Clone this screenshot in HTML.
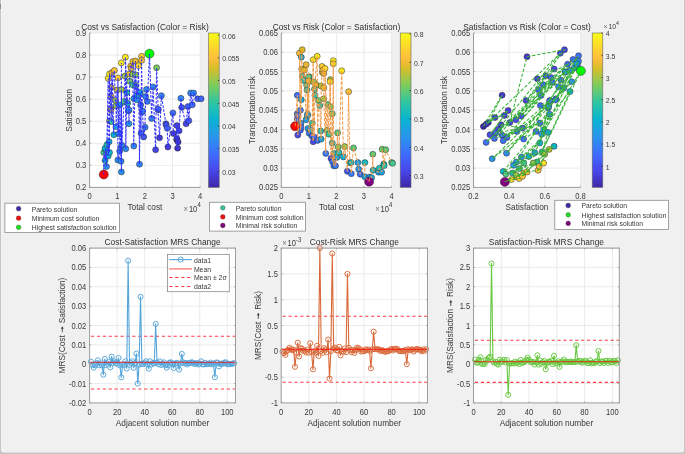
<!DOCTYPE html>
<html><head><meta charset="utf-8"><style>
html,body{margin:0;padding:0;background:#f0f0f0;}
body{width:685px;height:454px;overflow:hidden;position:relative;}
svg{position:absolute;left:0;top:0;font-family:"Liberation Sans", sans-serif;will-change:transform;filter:blur(0.3px);}
</style></head><body>
<svg width="685" height="454" viewBox="0 0 685 454">
<defs><clipPath id="c1"><rect x="89.6" y="33" width="110.6" height="154.4"/></clipPath><clipPath id="c2"><rect x="281.3" y="33" width="110.2" height="154.4"/></clipPath><clipPath id="c3"><rect x="473.5" y="33" width="107" height="154.4"/></clipPath><clipPath id="c4"><rect x="89.6" y="248.1" width="145.9" height="154.8"/></clipPath><clipPath id="c5"><rect x="281.2" y="248.1" width="146.3" height="154.8"/></clipPath><clipPath id="c6"><rect x="473.5" y="248.1" width="145.8" height="154.8"/></clipPath><linearGradient id="g1" x1="0" y1="0" x2="0" y2="1"><stop offset="0.0000" stop-color="#f9fb15"/><stop offset="0.1111" stop-color="#fccf30"/><stop offset="0.1650" stop-color="#fdbe3c"/><stop offset="0.2222" stop-color="#dcbd29"/><stop offset="0.3333" stop-color="#81cc59"/><stop offset="0.4444" stop-color="#31c69f"/><stop offset="0.5556" stop-color="#08b5d0"/><stop offset="0.6667" stop-color="#2797eb"/><stop offset="0.7778" stop-color="#3e6fff"/><stop offset="0.8889" stop-color="#4747eb"/><stop offset="1.0000" stop-color="#3e26a8"/></linearGradient><linearGradient id="g2" x1="0" y1="0" x2="0" y2="1"><stop offset="0.0000" stop-color="#f9fb15"/><stop offset="0.1111" stop-color="#fccf30"/><stop offset="0.1650" stop-color="#fdbe3c"/><stop offset="0.2222" stop-color="#dcbd29"/><stop offset="0.3333" stop-color="#81cc59"/><stop offset="0.4444" stop-color="#31c69f"/><stop offset="0.5556" stop-color="#08b5d0"/><stop offset="0.6667" stop-color="#2797eb"/><stop offset="0.7778" stop-color="#3e6fff"/><stop offset="0.8889" stop-color="#4747eb"/><stop offset="1.0000" stop-color="#3e26a8"/></linearGradient><linearGradient id="g3" x1="0" y1="0" x2="0" y2="1"><stop offset="0.0000" stop-color="#f9fb15"/><stop offset="0.1111" stop-color="#fccf30"/><stop offset="0.1650" stop-color="#fdbe3c"/><stop offset="0.2222" stop-color="#dcbd29"/><stop offset="0.3333" stop-color="#81cc59"/><stop offset="0.4444" stop-color="#31c69f"/><stop offset="0.5556" stop-color="#08b5d0"/><stop offset="0.6667" stop-color="#2797eb"/><stop offset="0.7778" stop-color="#3e6fff"/><stop offset="0.8889" stop-color="#4747eb"/><stop offset="1.0000" stop-color="#3e26a8"/></linearGradient></defs>
<rect x="0" y="0" width="685" height="454" fill="#c4c4c4"/>
<rect x="0" y="4" width="1" height="5" fill="#8a8a8a"/>
<rect x="1" y="-6" width="683" height="458.6" rx="3" ry="3" fill="#f6f6f6"/>
<rect x="1.6" y="-6" width="681.8" height="458.0" rx="2.5" ry="2.5" fill="#f0f0f0"/>
<rect x="89.6" y="33" width="110.6" height="154.4" fill="#fff"/>
<line x1="117.25" y1="33" x2="117.25" y2="187.4" stroke="#e6e6e6" stroke-width="0.8"/>
<line x1="144.9" y1="33" x2="144.9" y2="187.4" stroke="#e6e6e6" stroke-width="0.8"/>
<line x1="172.55" y1="33" x2="172.55" y2="187.4" stroke="#e6e6e6" stroke-width="0.8"/>
<line x1="200.2" y1="33" x2="200.2" y2="187.4" stroke="#e6e6e6" stroke-width="0.8"/>
<line x1="89.6" y1="165.34" x2="200.2" y2="165.34" stroke="#e6e6e6" stroke-width="0.8"/>
<line x1="89.6" y1="143.29" x2="200.2" y2="143.29" stroke="#e6e6e6" stroke-width="0.8"/>
<line x1="89.6" y1="121.23" x2="200.2" y2="121.23" stroke="#e6e6e6" stroke-width="0.8"/>
<line x1="89.6" y1="99.17" x2="200.2" y2="99.17" stroke="#e6e6e6" stroke-width="0.8"/>
<line x1="89.6" y1="77.11" x2="200.2" y2="77.11" stroke="#e6e6e6" stroke-width="0.8"/>
<line x1="89.6" y1="55.06" x2="200.2" y2="55.06" stroke="#e6e6e6" stroke-width="0.8"/>
<line x1="89.6" y1="33" x2="200.2" y2="33" stroke="#e6e6e6" stroke-width="0.8"/>
<rect x="281.3" y="33" width="110.2" height="154.4" fill="#fff"/>
<line x1="308.85" y1="33" x2="308.85" y2="187.4" stroke="#e6e6e6" stroke-width="0.8"/>
<line x1="336.4" y1="33" x2="336.4" y2="187.4" stroke="#e6e6e6" stroke-width="0.8"/>
<line x1="363.95" y1="33" x2="363.95" y2="187.4" stroke="#e6e6e6" stroke-width="0.8"/>
<line x1="391.5" y1="33" x2="391.5" y2="187.4" stroke="#e6e6e6" stroke-width="0.8"/>
<line x1="281.3" y1="168.1" x2="391.5" y2="168.1" stroke="#e6e6e6" stroke-width="0.8"/>
<line x1="281.3" y1="148.8" x2="391.5" y2="148.8" stroke="#e6e6e6" stroke-width="0.8"/>
<line x1="281.3" y1="129.5" x2="391.5" y2="129.5" stroke="#e6e6e6" stroke-width="0.8"/>
<line x1="281.3" y1="110.2" x2="391.5" y2="110.2" stroke="#e6e6e6" stroke-width="0.8"/>
<line x1="281.3" y1="90.9" x2="391.5" y2="90.9" stroke="#e6e6e6" stroke-width="0.8"/>
<line x1="281.3" y1="71.6" x2="391.5" y2="71.6" stroke="#e6e6e6" stroke-width="0.8"/>
<line x1="281.3" y1="52.3" x2="391.5" y2="52.3" stroke="#e6e6e6" stroke-width="0.8"/>
<line x1="281.3" y1="33" x2="391.5" y2="33" stroke="#e6e6e6" stroke-width="0.8"/>
<rect x="473.5" y="33" width="107" height="154.4" fill="#fff"/>
<line x1="509.17" y1="33" x2="509.17" y2="187.4" stroke="#e6e6e6" stroke-width="0.8"/>
<line x1="544.83" y1="33" x2="544.83" y2="187.4" stroke="#e6e6e6" stroke-width="0.8"/>
<line x1="580.5" y1="33" x2="580.5" y2="187.4" stroke="#e6e6e6" stroke-width="0.8"/>
<line x1="473.5" y1="168.1" x2="580.5" y2="168.1" stroke="#e6e6e6" stroke-width="0.8"/>
<line x1="473.5" y1="148.8" x2="580.5" y2="148.8" stroke="#e6e6e6" stroke-width="0.8"/>
<line x1="473.5" y1="129.5" x2="580.5" y2="129.5" stroke="#e6e6e6" stroke-width="0.8"/>
<line x1="473.5" y1="110.2" x2="580.5" y2="110.2" stroke="#e6e6e6" stroke-width="0.8"/>
<line x1="473.5" y1="90.9" x2="580.5" y2="90.9" stroke="#e6e6e6" stroke-width="0.8"/>
<line x1="473.5" y1="71.6" x2="580.5" y2="71.6" stroke="#e6e6e6" stroke-width="0.8"/>
<line x1="473.5" y1="52.3" x2="580.5" y2="52.3" stroke="#e6e6e6" stroke-width="0.8"/>
<line x1="473.5" y1="33" x2="580.5" y2="33" stroke="#e6e6e6" stroke-width="0.8"/>
<rect x="89.6" y="248.1" width="145.9" height="154.8" fill="#fff"/>
<line x1="117.13" y1="248.1" x2="117.13" y2="402.9" stroke="#e6e6e6" stroke-width="0.8"/>
<line x1="144.66" y1="248.1" x2="144.66" y2="402.9" stroke="#e6e6e6" stroke-width="0.8"/>
<line x1="172.18" y1="248.1" x2="172.18" y2="402.9" stroke="#e6e6e6" stroke-width="0.8"/>
<line x1="199.71" y1="248.1" x2="199.71" y2="402.9" stroke="#e6e6e6" stroke-width="0.8"/>
<line x1="227.24" y1="248.1" x2="227.24" y2="402.9" stroke="#e6e6e6" stroke-width="0.8"/>
<line x1="89.6" y1="383.55" x2="235.5" y2="383.55" stroke="#e6e6e6" stroke-width="0.8"/>
<line x1="89.6" y1="364.2" x2="235.5" y2="364.2" stroke="#e6e6e6" stroke-width="0.8"/>
<line x1="89.6" y1="344.85" x2="235.5" y2="344.85" stroke="#e6e6e6" stroke-width="0.8"/>
<line x1="89.6" y1="325.5" x2="235.5" y2="325.5" stroke="#e6e6e6" stroke-width="0.8"/>
<line x1="89.6" y1="306.15" x2="235.5" y2="306.15" stroke="#e6e6e6" stroke-width="0.8"/>
<line x1="89.6" y1="286.8" x2="235.5" y2="286.8" stroke="#e6e6e6" stroke-width="0.8"/>
<line x1="89.6" y1="267.45" x2="235.5" y2="267.45" stroke="#e6e6e6" stroke-width="0.8"/>
<line x1="89.6" y1="248.1" x2="235.5" y2="248.1" stroke="#e6e6e6" stroke-width="0.8"/>
<rect x="281.2" y="248.1" width="146.3" height="154.8" fill="#fff"/>
<line x1="308.8" y1="248.1" x2="308.8" y2="402.9" stroke="#e6e6e6" stroke-width="0.8"/>
<line x1="336.41" y1="248.1" x2="336.41" y2="402.9" stroke="#e6e6e6" stroke-width="0.8"/>
<line x1="364.01" y1="248.1" x2="364.01" y2="402.9" stroke="#e6e6e6" stroke-width="0.8"/>
<line x1="391.62" y1="248.1" x2="391.62" y2="402.9" stroke="#e6e6e6" stroke-width="0.8"/>
<line x1="419.22" y1="248.1" x2="419.22" y2="402.9" stroke="#e6e6e6" stroke-width="0.8"/>
<line x1="281.2" y1="377.1" x2="427.5" y2="377.1" stroke="#e6e6e6" stroke-width="0.8"/>
<line x1="281.2" y1="351.3" x2="427.5" y2="351.3" stroke="#e6e6e6" stroke-width="0.8"/>
<line x1="281.2" y1="325.5" x2="427.5" y2="325.5" stroke="#e6e6e6" stroke-width="0.8"/>
<line x1="281.2" y1="299.7" x2="427.5" y2="299.7" stroke="#e6e6e6" stroke-width="0.8"/>
<line x1="281.2" y1="273.9" x2="427.5" y2="273.9" stroke="#e6e6e6" stroke-width="0.8"/>
<line x1="281.2" y1="248.1" x2="427.5" y2="248.1" stroke="#e6e6e6" stroke-width="0.8"/>
<rect x="473.5" y="248.1" width="145.8" height="154.8" fill="#fff"/>
<line x1="501.27" y1="248.1" x2="501.27" y2="402.9" stroke="#e6e6e6" stroke-width="0.8"/>
<line x1="529.04" y1="248.1" x2="529.04" y2="402.9" stroke="#e6e6e6" stroke-width="0.8"/>
<line x1="556.81" y1="248.1" x2="556.81" y2="402.9" stroke="#e6e6e6" stroke-width="0.8"/>
<line x1="584.59" y1="248.1" x2="584.59" y2="402.9" stroke="#e6e6e6" stroke-width="0.8"/>
<line x1="612.36" y1="248.1" x2="612.36" y2="402.9" stroke="#e6e6e6" stroke-width="0.8"/>
<line x1="473.5" y1="383.55" x2="619.3" y2="383.55" stroke="#e6e6e6" stroke-width="0.8"/>
<line x1="473.5" y1="364.2" x2="619.3" y2="364.2" stroke="#e6e6e6" stroke-width="0.8"/>
<line x1="473.5" y1="344.85" x2="619.3" y2="344.85" stroke="#e6e6e6" stroke-width="0.8"/>
<line x1="473.5" y1="325.5" x2="619.3" y2="325.5" stroke="#e6e6e6" stroke-width="0.8"/>
<line x1="473.5" y1="306.15" x2="619.3" y2="306.15" stroke="#e6e6e6" stroke-width="0.8"/>
<line x1="473.5" y1="286.8" x2="619.3" y2="286.8" stroke="#e6e6e6" stroke-width="0.8"/>
<line x1="473.5" y1="267.45" x2="619.3" y2="267.45" stroke="#e6e6e6" stroke-width="0.8"/>
<line x1="473.5" y1="248.1" x2="619.3" y2="248.1" stroke="#e6e6e6" stroke-width="0.8"/>
<circle cx="103.8" cy="152.5" r="3.0" fill="#51c883" stroke="#262626" stroke-width="0.55" stroke-opacity="0.9"/>
<circle cx="105.1" cy="160.4" r="3.0" fill="#0ab5ce" stroke="#262626" stroke-width="0.55" stroke-opacity="0.9"/>
<circle cx="105.6" cy="149.8" r="3.0" fill="#0ab5ce" stroke="#262626" stroke-width="0.55" stroke-opacity="0.9"/>
<circle cx="105.1" cy="148.3" r="3.0" fill="#0ab5ce" stroke="#262626" stroke-width="0.55" stroke-opacity="0.9"/>
<circle cx="106.5" cy="166.6" r="3.0" fill="#2e8bf1" stroke="#262626" stroke-width="0.55" stroke-opacity="0.9"/>
<circle cx="106.9" cy="144.8" r="3.0" fill="#1cbdb8" stroke="#262626" stroke-width="0.55" stroke-opacity="0.9"/>
<circle cx="108.2" cy="78.3" r="3.0" fill="#fbe721" stroke="#262626" stroke-width="0.55" stroke-opacity="0.9"/>
<circle cx="108.2" cy="156" r="3.0" fill="#14a9db" stroke="#262626" stroke-width="0.55" stroke-opacity="0.9"/>
<circle cx="109.1" cy="141.7" r="3.0" fill="#1aa3e0" stroke="#262626" stroke-width="0.55" stroke-opacity="0.9"/>
<circle cx="109.5" cy="152.5" r="3.0" fill="#0ab5ce" stroke="#262626" stroke-width="0.55" stroke-opacity="0.9"/>
<circle cx="109.5" cy="121" r="3.0" fill="#fccd32" stroke="#262626" stroke-width="0.55" stroke-opacity="0.9"/>
<circle cx="109.5" cy="73.9" r="3.0" fill="#faef1c" stroke="#262626" stroke-width="0.55" stroke-opacity="0.9"/>
<circle cx="111.2" cy="121.6" r="3.0" fill="#2fc5a2" stroke="#262626" stroke-width="0.55" stroke-opacity="0.9"/>
<circle cx="111.3" cy="87.3" r="3.0" fill="#e9bd30" stroke="#262626" stroke-width="0.55" stroke-opacity="0.9"/>
<circle cx="110.9" cy="108.5" r="3.0" fill="#f4be37" stroke="#262626" stroke-width="0.55" stroke-opacity="0.9"/>
<circle cx="110.9" cy="110" r="3.0" fill="#ddbd29" stroke="#262626" stroke-width="0.55" stroke-opacity="0.9"/>
<circle cx="111.9" cy="72.6" r="3.0" fill="#e9bd30" stroke="#262626" stroke-width="0.55" stroke-opacity="0.9"/>
<circle cx="113.9" cy="134.7" r="3.0" fill="#0ab5ce" stroke="#262626" stroke-width="0.55" stroke-opacity="0.9"/>
<circle cx="110.9" cy="96.1" r="3.0" fill="#e9bd30" stroke="#262626" stroke-width="0.55" stroke-opacity="0.9"/>
<circle cx="114.4" cy="70.4" r="3.0" fill="#f4be37" stroke="#262626" stroke-width="0.55" stroke-opacity="0.9"/>
<circle cx="115.3" cy="100.5" r="3.0" fill="#9cc74a" stroke="#262626" stroke-width="0.55" stroke-opacity="0.9"/>
<circle cx="116.1" cy="105.8" r="3.0" fill="#8cca53" stroke="#262626" stroke-width="0.55" stroke-opacity="0.9"/>
<circle cx="116.1" cy="126.7" r="3.0" fill="#239be7" stroke="#262626" stroke-width="0.55" stroke-opacity="0.9"/>
<circle cx="117" cy="90" r="3.0" fill="#ddbd29" stroke="#262626" stroke-width="0.55" stroke-opacity="0.9"/>
<circle cx="118.8" cy="133.8" r="3.0" fill="#2e8bf1" stroke="#262626" stroke-width="0.55" stroke-opacity="0.9"/>
<circle cx="117.9" cy="77.9" r="3.0" fill="#fccd32" stroke="#262626" stroke-width="0.55" stroke-opacity="0.9"/>
<circle cx="117.9" cy="160" r="3.0" fill="#2e8bf1" stroke="#262626" stroke-width="0.55" stroke-opacity="0.9"/>
<circle cx="121.4" cy="146.8" r="3.0" fill="#3284f4" stroke="#262626" stroke-width="0.55" stroke-opacity="0.9"/>
<circle cx="119.7" cy="151.2" r="3.0" fill="#2e8bf1" stroke="#262626" stroke-width="0.55" stroke-opacity="0.9"/>
<circle cx="119.7" cy="105" r="3.0" fill="#14a9db" stroke="#262626" stroke-width="0.55" stroke-opacity="0.9"/>
<circle cx="121" cy="161.3" r="3.0" fill="#2e8bf1" stroke="#262626" stroke-width="0.55" stroke-opacity="0.9"/>
<circle cx="121.4" cy="62.9" r="3.0" fill="#fbe721" stroke="#262626" stroke-width="0.55" stroke-opacity="0.9"/>
<circle cx="121.4" cy="171.9" r="3.0" fill="#2a92ed" stroke="#262626" stroke-width="0.55" stroke-opacity="0.9"/>
<circle cx="121.4" cy="89.5" r="3.0" fill="#9cc74a" stroke="#262626" stroke-width="0.55" stroke-opacity="0.9"/>
<circle cx="121.9" cy="145.2" r="3.0" fill="#3284f4" stroke="#262626" stroke-width="0.55" stroke-opacity="0.9"/>
<circle cx="124.1" cy="101.4" r="3.0" fill="#51c883" stroke="#262626" stroke-width="0.55" stroke-opacity="0.9"/>
<circle cx="125" cy="76.1" r="3.0" fill="#9cc74a" stroke="#262626" stroke-width="0.55" stroke-opacity="0.9"/>
<circle cx="127.6" cy="103.2" r="3.0" fill="#15bac1" stroke="#262626" stroke-width="0.55" stroke-opacity="0.9"/>
<circle cx="125.4" cy="57.2" r="3.0" fill="#fbe721" stroke="#262626" stroke-width="0.55" stroke-opacity="0.9"/>
<circle cx="125.8" cy="148.8" r="3.0" fill="#2e8bf1" stroke="#262626" stroke-width="0.55" stroke-opacity="0.9"/>
<circle cx="126.7" cy="92.6" r="3.0" fill="#24c0af" stroke="#262626" stroke-width="0.55" stroke-opacity="0.9"/>
<circle cx="128.5" cy="110.9" r="3.0" fill="#2e8bf1" stroke="#262626" stroke-width="0.55" stroke-opacity="0.9"/>
<circle cx="128.9" cy="109.8" r="3.0" fill="#2e8bf1" stroke="#262626" stroke-width="0.55" stroke-opacity="0.9"/>
<circle cx="128.9" cy="123.7" r="3.0" fill="#239be7" stroke="#262626" stroke-width="0.55" stroke-opacity="0.9"/>
<circle cx="129.8" cy="81.2" r="3.0" fill="#75cb63" stroke="#262626" stroke-width="0.55" stroke-opacity="0.9"/>
<circle cx="129.4" cy="73.9" r="3.0" fill="#e9bd30" stroke="#262626" stroke-width="0.55" stroke-opacity="0.9"/>
<circle cx="130.7" cy="66" r="3.0" fill="#f4be37" stroke="#262626" stroke-width="0.55" stroke-opacity="0.9"/>
<circle cx="131.1" cy="68.2" r="3.0" fill="#e9bd30" stroke="#262626" stroke-width="0.55" stroke-opacity="0.9"/>
<circle cx="132.9" cy="61.6" r="3.0" fill="#f4be37" stroke="#262626" stroke-width="0.55" stroke-opacity="0.9"/>
<circle cx="132.9" cy="74.4" r="3.0" fill="#8cca53" stroke="#262626" stroke-width="0.55" stroke-opacity="0.9"/>
<circle cx="132.9" cy="84.7" r="3.0" fill="#2fc5a2" stroke="#262626" stroke-width="0.55" stroke-opacity="0.9"/>
<circle cx="133.8" cy="146.1" r="3.0" fill="#3284f4" stroke="#262626" stroke-width="0.55" stroke-opacity="0.9"/>
<circle cx="135.5" cy="61" r="3.0" fill="#e9bd30" stroke="#262626" stroke-width="0.55" stroke-opacity="0.9"/>
<circle cx="133.8" cy="98.8" r="3.0" fill="#239be7" stroke="#262626" stroke-width="0.55" stroke-opacity="0.9"/>
<circle cx="135.9" cy="85.6" r="3.0" fill="#51c883" stroke="#262626" stroke-width="0.55" stroke-opacity="0.9"/>
<circle cx="136.8" cy="99.7" r="3.0" fill="#239be7" stroke="#262626" stroke-width="0.55" stroke-opacity="0.9"/>
<circle cx="135.5" cy="74.8" r="3.0" fill="#8cca53" stroke="#262626" stroke-width="0.55" stroke-opacity="0.9"/>
<circle cx="137.6" cy="95.3" r="3.0" fill="#15bac1" stroke="#262626" stroke-width="0.55" stroke-opacity="0.9"/>
<circle cx="138.5" cy="65.6" r="3.0" fill="#fcd42d" stroke="#262626" stroke-width="0.55" stroke-opacity="0.9"/>
<circle cx="139.5" cy="164.2" r="3.0" fill="#3480f6" stroke="#262626" stroke-width="0.55" stroke-opacity="0.9"/>
<circle cx="140.3" cy="92.6" r="3.0" fill="#0ab5ce" stroke="#262626" stroke-width="0.55" stroke-opacity="0.9"/>
<circle cx="140.7" cy="105" r="3.0" fill="#3480f6" stroke="#262626" stroke-width="0.55" stroke-opacity="0.9"/>
<circle cx="141" cy="133.3" r="3.0" fill="#3e6efe" stroke="#262626" stroke-width="0.55" stroke-opacity="0.9"/>
<circle cx="141.6" cy="56.3" r="3.0" fill="#fccd32" stroke="#262626" stroke-width="0.55" stroke-opacity="0.9"/>
<circle cx="141.6" cy="60.3" r="3.0" fill="#f4be37" stroke="#262626" stroke-width="0.55" stroke-opacity="0.9"/>
<circle cx="142.3" cy="111.8" r="3.0" fill="#3480f6" stroke="#262626" stroke-width="0.55" stroke-opacity="0.9"/>
<circle cx="142.5" cy="111.1" r="3.0" fill="#3480f6" stroke="#262626" stroke-width="0.55" stroke-opacity="0.9"/>
<circle cx="143.7" cy="136.9" r="3.0" fill="#4455f2" stroke="#262626" stroke-width="0.55" stroke-opacity="0.9"/>
<circle cx="145" cy="127.2" r="3.0" fill="#3879fa" stroke="#262626" stroke-width="0.55" stroke-opacity="0.9"/>
<circle cx="145.6" cy="96.6" r="3.0" fill="#3480f6" stroke="#262626" stroke-width="0.55" stroke-opacity="0.9"/>
<circle cx="146.5" cy="89.5" r="3.0" fill="#3284f4" stroke="#262626" stroke-width="0.55" stroke-opacity="0.9"/>
<circle cx="147.3" cy="101.4" r="3.0" fill="#3879fa" stroke="#262626" stroke-width="0.55" stroke-opacity="0.9"/>
<circle cx="151.6" cy="118.4" r="3.0" fill="#3879fa" stroke="#262626" stroke-width="0.55" stroke-opacity="0.9"/>
<circle cx="153.1" cy="86.9" r="3.0" fill="#3284f4" stroke="#262626" stroke-width="0.55" stroke-opacity="0.9"/>
<circle cx="155.6" cy="149.8" r="3.0" fill="#4744e4" stroke="#262626" stroke-width="0.55" stroke-opacity="0.9"/>
<circle cx="156.6" cy="67.8" r="3.0" fill="#7ccb5d" stroke="#262626" stroke-width="0.55" stroke-opacity="0.9"/>
<circle cx="158.2" cy="110" r="3.0" fill="#3e6efe" stroke="#262626" stroke-width="0.55" stroke-opacity="0.9"/>
<circle cx="157.9" cy="108.9" r="3.0" fill="#4067fb" stroke="#262626" stroke-width="0.55" stroke-opacity="0.9"/>
<circle cx="159.5" cy="137.8" r="3.0" fill="#453ed8" stroke="#262626" stroke-width="0.55" stroke-opacity="0.9"/>
<circle cx="161.4" cy="95.7" r="3.0" fill="#3480f6" stroke="#262626" stroke-width="0.55" stroke-opacity="0.9"/>
<circle cx="165.9" cy="123.8" r="3.0" fill="#4067fb" stroke="#262626" stroke-width="0.55" stroke-opacity="0.9"/>
<circle cx="166.1" cy="125" r="3.0" fill="#4455f2" stroke="#262626" stroke-width="0.55" stroke-opacity="0.9"/>
<circle cx="167.2" cy="128.2" r="3.0" fill="#4067fb" stroke="#262626" stroke-width="0.55" stroke-opacity="0.9"/>
<circle cx="167.9" cy="147" r="3.0" fill="#453ed8" stroke="#262626" stroke-width="0.55" stroke-opacity="0.9"/>
<circle cx="172.9" cy="112.9" r="3.0" fill="#3e6efe" stroke="#262626" stroke-width="0.55" stroke-opacity="0.9"/>
<circle cx="173.4" cy="133.5" r="3.0" fill="#453ed8" stroke="#262626" stroke-width="0.55" stroke-opacity="0.9"/>
<circle cx="176.7" cy="139.8" r="3.0" fill="#4235c6" stroke="#262626" stroke-width="0.55" stroke-opacity="0.9"/>
<circle cx="176.9" cy="125.6" r="3.0" fill="#4744e4" stroke="#262626" stroke-width="0.55" stroke-opacity="0.9"/>
<circle cx="176.9" cy="138.8" r="3.0" fill="#4235c6" stroke="#262626" stroke-width="0.55" stroke-opacity="0.9"/>
<circle cx="177.6" cy="148.2" r="3.0" fill="#4235c6" stroke="#262626" stroke-width="0.55" stroke-opacity="0.9"/>
<circle cx="178.1" cy="142" r="3.0" fill="#4235c6" stroke="#262626" stroke-width="0.55" stroke-opacity="0.9"/>
<circle cx="179.1" cy="130.8" r="3.0" fill="#4744e4" stroke="#262626" stroke-width="0.55" stroke-opacity="0.9"/>
<circle cx="180.9" cy="98.3" r="3.0" fill="#3284f4" stroke="#262626" stroke-width="0.55" stroke-opacity="0.9"/>
<circle cx="181.7" cy="107.5" r="3.0" fill="#4455f2" stroke="#262626" stroke-width="0.55" stroke-opacity="0.9"/>
<circle cx="186.1" cy="123.8" r="3.0" fill="#4744e4" stroke="#262626" stroke-width="0.55" stroke-opacity="0.9"/>
<circle cx="187.9" cy="106.6" r="3.0" fill="#4260f7" stroke="#262626" stroke-width="0.55" stroke-opacity="0.9"/>
<circle cx="188.8" cy="120.7" r="3.0" fill="#4455f2" stroke="#262626" stroke-width="0.55" stroke-opacity="0.9"/>
<circle cx="190.6" cy="93" r="3.0" fill="#2e8bf1" stroke="#262626" stroke-width="0.55" stroke-opacity="0.9"/>
<circle cx="192.3" cy="104.8" r="3.0" fill="#3e6efe" stroke="#262626" stroke-width="0.55" stroke-opacity="0.9"/>
<circle cx="193.6" cy="93" r="3.0" fill="#2e8bf1" stroke="#262626" stroke-width="0.55" stroke-opacity="0.9"/>
<circle cx="197.6" cy="98.8" r="3.0" fill="#4067fb" stroke="#262626" stroke-width="0.55" stroke-opacity="0.9"/>
<circle cx="201.1" cy="98.8" r="3.0" fill="#4067fb" stroke="#262626" stroke-width="0.55" stroke-opacity="0.9"/>
<circle cx="103.8" cy="174.5" r="4.5" fill="#ff0000" stroke="#262626" stroke-width="0.55" stroke-opacity="0.9"/>
<circle cx="149.5" cy="53.7" r="4.5" fill="#00ff00" stroke="#262626" stroke-width="0.55" stroke-opacity="0.9"/>
<path clip-path="url(#c1)" d="M103.8 174.5 L103.8 152.5 L105.1 160.4 L105.6 149.8 L105.1 148.3 L106.5 166.6 L106.9 144.8 L108.2 78.3 L108.2 156 L109.1 141.7 L109.5 152.5 L109.5 121 L109.5 73.9 L111.2 121.6 L111.3 87.3 L110.9 108.5 L110.9 110 L111.9 72.6 L113.9 134.7 L110.9 96.1 L114.4 70.4 L115.3 100.5 L116.1 105.8 L116.1 126.7 L117 90 L118.8 133.8 L117.9 77.9 L117.9 160 L121.4 146.8 L119.7 151.2 L119.7 105 L121 161.3 L121.4 62.9 L121.4 171.9 L121.4 89.5 L121.9 145.2 L124.1 101.4 L125 76.1 L127.6 103.2 L125.4 57.2 L125.8 148.8 L126.7 92.6 L128.5 110.9 L128.9 109.8 L128.9 123.7 L129.8 81.2 L129.4 73.9 L130.7 66 L131.1 68.2 L132.9 61.6 L132.9 74.4 L132.9 84.7 L133.8 146.1 L135.5 61 L133.8 98.8 L135.9 85.6 L136.8 99.7 L135.5 74.8 L137.6 95.3 L138.5 65.6 L139.5 164.2 L140.3 92.6 L140.7 105 L141 133.3 L141.6 56.3 L141.6 60.3 L142.3 111.8 L142.5 111.1 L143.7 136.9 L145 127.2 L145.6 96.6 L146.5 89.5 L147.3 101.4 L149.5 53.7 L151.6 118.4 L153.1 86.9 L155.6 149.8 L156.6 67.8 L158.2 110 L157.9 108.9 L159.5 137.8 L161.4 95.7 L165.9 123.8 L166.1 125 L167.2 128.2 L167.9 147 L172.9 112.9 L173.4 133.5 L176.7 139.8 L176.9 125.6 L176.9 138.8 L177.6 148.2 L178.1 142 L179.1 130.8 L180.9 98.3 L181.7 107.5 L186.1 123.8 L187.9 106.6 L188.8 120.7 L190.6 93 L192.3 104.8 L193.6 93 L197.6 98.8 L201.1 98.8" fill="none" stroke="#3232ff" stroke-width="1.05" stroke-dasharray="2.6 1.4"/>
<circle cx="297.3" cy="95.3" r="3.0" fill="#3e6efe" stroke="#262626" stroke-width="0.55" stroke-opacity="0.9"/>
<circle cx="297.3" cy="118.8" r="3.0" fill="#4067fb" stroke="#262626" stroke-width="0.55" stroke-opacity="0.9"/>
<circle cx="297.3" cy="113.8" r="3.0" fill="#3879fa" stroke="#262626" stroke-width="0.55" stroke-opacity="0.9"/>
<circle cx="297.8" cy="115.3" r="3.0" fill="#3e6efe" stroke="#262626" stroke-width="0.55" stroke-opacity="0.9"/>
<circle cx="297.8" cy="135.1" r="3.0" fill="#474aed" stroke="#262626" stroke-width="0.55" stroke-opacity="0.9"/>
<circle cx="300.4" cy="110.2" r="3.0" fill="#3879fa" stroke="#262626" stroke-width="0.55" stroke-opacity="0.9"/>
<circle cx="299.5" cy="53.2" r="3.0" fill="#fdc339" stroke="#262626" stroke-width="0.55" stroke-opacity="0.9"/>
<circle cx="300.4" cy="130.3" r="3.0" fill="#4067fb" stroke="#262626" stroke-width="0.55" stroke-opacity="0.9"/>
<circle cx="300.9" cy="123.2" r="3.0" fill="#2e8bf1" stroke="#262626" stroke-width="0.55" stroke-opacity="0.9"/>
<circle cx="300.9" cy="127.2" r="3.0" fill="#3e6efe" stroke="#262626" stroke-width="0.55" stroke-opacity="0.9"/>
<circle cx="301.3" cy="57.2" r="3.0" fill="#14a9db" stroke="#262626" stroke-width="0.55" stroke-opacity="0.9"/>
<circle cx="302.2" cy="49.7" r="3.0" fill="#ddbd29" stroke="#262626" stroke-width="0.55" stroke-opacity="0.9"/>
<circle cx="301.3" cy="99.7" r="3.0" fill="#14a9db" stroke="#262626" stroke-width="0.55" stroke-opacity="0.9"/>
<circle cx="301.7" cy="69.1" r="3.0" fill="#adc542" stroke="#262626" stroke-width="0.55" stroke-opacity="0.9"/>
<circle cx="302.2" cy="76.1" r="3.0" fill="#1cbdb8" stroke="#262626" stroke-width="0.55" stroke-opacity="0.9"/>
<circle cx="303.5" cy="80.3" r="3.0" fill="#15bac1" stroke="#262626" stroke-width="0.55" stroke-opacity="0.9"/>
<circle cx="304.4" cy="70" r="3.0" fill="#ddbd29" stroke="#262626" stroke-width="0.55" stroke-opacity="0.9"/>
<circle cx="306.1" cy="119.7" r="3.0" fill="#209ee5" stroke="#262626" stroke-width="0.55" stroke-opacity="0.9"/>
<circle cx="309.2" cy="76.8" r="3.0" fill="#5fc976" stroke="#262626" stroke-width="0.55" stroke-opacity="0.9"/>
<circle cx="306.1" cy="64.7" r="3.0" fill="#e9bd30" stroke="#262626" stroke-width="0.55" stroke-opacity="0.9"/>
<circle cx="306.6" cy="85.1" r="3.0" fill="#43c790" stroke="#262626" stroke-width="0.55" stroke-opacity="0.9"/>
<circle cx="307" cy="90" r="3.0" fill="#24c0af" stroke="#262626" stroke-width="0.55" stroke-opacity="0.9"/>
<circle cx="307.5" cy="115.7" r="3.0" fill="#0faed6" stroke="#262626" stroke-width="0.55" stroke-opacity="0.9"/>
<circle cx="308.8" cy="77" r="3.0" fill="#51c883" stroke="#262626" stroke-width="0.55" stroke-opacity="0.9"/>
<circle cx="307.5" cy="114.2" r="3.0" fill="#1aa3e0" stroke="#262626" stroke-width="0.55" stroke-opacity="0.9"/>
<circle cx="308.8" cy="81.2" r="3.0" fill="#f4be37" stroke="#262626" stroke-width="0.55" stroke-opacity="0.9"/>
<circle cx="309.2" cy="133.3" r="3.0" fill="#3879fa" stroke="#262626" stroke-width="0.55" stroke-opacity="0.9"/>
<circle cx="307.9" cy="128.5" r="3.0" fill="#209ee5" stroke="#262626" stroke-width="0.55" stroke-opacity="0.9"/>
<circle cx="310.6" cy="129.8" r="3.0" fill="#14a9db" stroke="#262626" stroke-width="0.55" stroke-opacity="0.9"/>
<circle cx="312.3" cy="123.2" r="3.0" fill="#2fc5a2" stroke="#262626" stroke-width="0.55" stroke-opacity="0.9"/>
<circle cx="311.9" cy="136" r="3.0" fill="#3e6efe" stroke="#262626" stroke-width="0.55" stroke-opacity="0.9"/>
<circle cx="313.2" cy="59.8" r="3.0" fill="#fbe721" stroke="#262626" stroke-width="0.55" stroke-opacity="0.9"/>
<circle cx="313.2" cy="141.7" r="3.0" fill="#474aed" stroke="#262626" stroke-width="0.55" stroke-opacity="0.9"/>
<circle cx="313.6" cy="82" r="3.0" fill="#9cc74a" stroke="#262626" stroke-width="0.55" stroke-opacity="0.9"/>
<circle cx="314.1" cy="136.9" r="3.0" fill="#3e6efe" stroke="#262626" stroke-width="0.55" stroke-opacity="0.9"/>
<circle cx="315" cy="95.3" r="3.0" fill="#24c0af" stroke="#262626" stroke-width="0.55" stroke-opacity="0.9"/>
<circle cx="316.3" cy="85.1" r="3.0" fill="#e9bd30" stroke="#262626" stroke-width="0.55" stroke-opacity="0.9"/>
<circle cx="314.5" cy="89.1" r="3.0" fill="#43c790" stroke="#262626" stroke-width="0.55" stroke-opacity="0.9"/>
<circle cx="317.2" cy="56.3" r="3.0" fill="#fbe721" stroke="#262626" stroke-width="0.55" stroke-opacity="0.9"/>
<circle cx="317.6" cy="140.4" r="3.0" fill="#3e6efe" stroke="#262626" stroke-width="0.55" stroke-opacity="0.9"/>
<circle cx="318.5" cy="100.6" r="3.0" fill="#75cb63" stroke="#262626" stroke-width="0.55" stroke-opacity="0.9"/>
<circle cx="319.8" cy="105.4" r="3.0" fill="#24c0af" stroke="#262626" stroke-width="0.55" stroke-opacity="0.9"/>
<circle cx="320.7" cy="131.1" r="3.0" fill="#1cbdb8" stroke="#262626" stroke-width="0.55" stroke-opacity="0.9"/>
<circle cx="321.1" cy="139.1" r="3.0" fill="#1aa3e0" stroke="#262626" stroke-width="0.55" stroke-opacity="0.9"/>
<circle cx="321.1" cy="86" r="3.0" fill="#adc542" stroke="#262626" stroke-width="0.55" stroke-opacity="0.9"/>
<circle cx="322.3" cy="72.2" r="3.0" fill="#f4be37" stroke="#262626" stroke-width="0.55" stroke-opacity="0.9"/>
<circle cx="322" cy="66.4" r="3.0" fill="#fccd32" stroke="#262626" stroke-width="0.55" stroke-opacity="0.9"/>
<circle cx="322.9" cy="70" r="3.0" fill="#fccd32" stroke="#262626" stroke-width="0.55" stroke-opacity="0.9"/>
<circle cx="323.8" cy="73.5" r="3.0" fill="#e9bd30" stroke="#262626" stroke-width="0.55" stroke-opacity="0.9"/>
<circle cx="323.8" cy="87.8" r="3.0" fill="#e9bd30" stroke="#262626" stroke-width="0.55" stroke-opacity="0.9"/>
<circle cx="323.8" cy="98.8" r="3.0" fill="#9cc74a" stroke="#262626" stroke-width="0.55" stroke-opacity="0.9"/>
<circle cx="325.8" cy="153.5" r="3.0" fill="#3879fa" stroke="#262626" stroke-width="0.55" stroke-opacity="0.9"/>
<circle cx="325" cy="68.6" r="3.0" fill="#fbdc28" stroke="#262626" stroke-width="0.55" stroke-opacity="0.9"/>
<circle cx="327" cy="130.3" r="3.0" fill="#5fc976" stroke="#262626" stroke-width="0.55" stroke-opacity="0.9"/>
<circle cx="327.9" cy="104.5" r="3.0" fill="#5fc976" stroke="#262626" stroke-width="0.55" stroke-opacity="0.9"/>
<circle cx="328.8" cy="134.2" r="3.0" fill="#2fc5a2" stroke="#262626" stroke-width="0.55" stroke-opacity="0.9"/>
<circle cx="330.3" cy="79.6" r="3.0" fill="#9cc74a" stroke="#262626" stroke-width="0.55" stroke-opacity="0.9"/>
<circle cx="330.6" cy="106.7" r="3.0" fill="#75cb63" stroke="#262626" stroke-width="0.55" stroke-opacity="0.9"/>
<circle cx="330.1" cy="81.6" r="3.0" fill="#fbdc28" stroke="#262626" stroke-width="0.55" stroke-opacity="0.9"/>
<circle cx="331" cy="158.4" r="3.0" fill="#474aed" stroke="#262626" stroke-width="0.55" stroke-opacity="0.9"/>
<circle cx="332.3" cy="113.8" r="3.0" fill="#75cb63" stroke="#262626" stroke-width="0.55" stroke-opacity="0.9"/>
<circle cx="332.3" cy="143" r="3.0" fill="#24c0af" stroke="#262626" stroke-width="0.55" stroke-opacity="0.9"/>
<circle cx="332.5" cy="161.8" r="3.0" fill="#3879fa" stroke="#262626" stroke-width="0.55" stroke-opacity="0.9"/>
<circle cx="333.3" cy="60.7" r="3.0" fill="#fbe721" stroke="#262626" stroke-width="0.55" stroke-opacity="0.9"/>
<circle cx="333.3" cy="63.8" r="3.0" fill="#fbe026" stroke="#262626" stroke-width="0.55" stroke-opacity="0.9"/>
<circle cx="333.8" cy="165.8" r="3.0" fill="#3879fa" stroke="#262626" stroke-width="0.55" stroke-opacity="0.9"/>
<circle cx="334" cy="153.4" r="3.0" fill="#15bac1" stroke="#262626" stroke-width="0.55" stroke-opacity="0.9"/>
<circle cx="335.5" cy="165.8" r="3.0" fill="#3879fa" stroke="#262626" stroke-width="0.55" stroke-opacity="0.9"/>
<circle cx="336.9" cy="157.4" r="3.0" fill="#1aa3e0" stroke="#262626" stroke-width="0.55" stroke-opacity="0.9"/>
<circle cx="337.6" cy="132.9" r="3.0" fill="#5fc976" stroke="#262626" stroke-width="0.55" stroke-opacity="0.9"/>
<circle cx="338.1" cy="147" r="3.0" fill="#75cb63" stroke="#262626" stroke-width="0.55" stroke-opacity="0.9"/>
<circle cx="338.9" cy="152.4" r="3.0" fill="#24c0af" stroke="#262626" stroke-width="0.55" stroke-opacity="0.9"/>
<circle cx="341.7" cy="70.8" r="3.0" fill="#fbe721" stroke="#262626" stroke-width="0.55" stroke-opacity="0.9"/>
<circle cx="343.4" cy="156.9" r="3.0" fill="#0faed6" stroke="#262626" stroke-width="0.55" stroke-opacity="0.9"/>
<circle cx="344.7" cy="146.6" r="3.0" fill="#9cc74a" stroke="#262626" stroke-width="0.55" stroke-opacity="0.9"/>
<circle cx="347.3" cy="171.3" r="3.0" fill="#4455f2" stroke="#262626" stroke-width="0.55" stroke-opacity="0.9"/>
<circle cx="348.6" cy="91.7" r="3.0" fill="#fdc339" stroke="#262626" stroke-width="0.55" stroke-opacity="0.9"/>
<circle cx="349.8" cy="162.8" r="3.0" fill="#11b9c5" stroke="#262626" stroke-width="0.55" stroke-opacity="0.9"/>
<circle cx="351" cy="162.6" r="3.0" fill="#15bac1" stroke="#262626" stroke-width="0.55" stroke-opacity="0.9"/>
<circle cx="351.3" cy="173.7" r="3.0" fill="#3879fa" stroke="#262626" stroke-width="0.55" stroke-opacity="0.9"/>
<circle cx="353.5" cy="147.9" r="3.0" fill="#5fc976" stroke="#262626" stroke-width="0.55" stroke-opacity="0.9"/>
<circle cx="357.9" cy="162.6" r="3.0" fill="#209ee5" stroke="#262626" stroke-width="0.55" stroke-opacity="0.9"/>
<circle cx="358.7" cy="169.3" r="3.0" fill="#2a92ed" stroke="#262626" stroke-width="0.55" stroke-opacity="0.9"/>
<circle cx="360.2" cy="174.2" r="3.0" fill="#3e6efe" stroke="#262626" stroke-width="0.55" stroke-opacity="0.9"/>
<circle cx="364.9" cy="162.6" r="3.0" fill="#15bac1" stroke="#262626" stroke-width="0.55" stroke-opacity="0.9"/>
<circle cx="364.7" cy="176.7" r="3.0" fill="#1aa3e0" stroke="#262626" stroke-width="0.55" stroke-opacity="0.9"/>
<circle cx="369.7" cy="177" r="3.0" fill="#2895ec" stroke="#262626" stroke-width="0.55" stroke-opacity="0.9"/>
<circle cx="371.6" cy="177.7" r="3.0" fill="#1aa3e0" stroke="#262626" stroke-width="0.55" stroke-opacity="0.9"/>
<circle cx="372.8" cy="154.2" r="3.0" fill="#5fc976" stroke="#262626" stroke-width="0.55" stroke-opacity="0.9"/>
<circle cx="373.1" cy="170.3" r="3.0" fill="#11b9c5" stroke="#262626" stroke-width="0.55" stroke-opacity="0.9"/>
<circle cx="378.5" cy="172.2" r="3.0" fill="#1aa3e0" stroke="#262626" stroke-width="0.55" stroke-opacity="0.9"/>
<circle cx="379.4" cy="168.2" r="3.0" fill="#24c0af" stroke="#262626" stroke-width="0.55" stroke-opacity="0.9"/>
<circle cx="381.6" cy="172.2" r="3.0" fill="#1aa3e0" stroke="#262626" stroke-width="0.55" stroke-opacity="0.9"/>
<circle cx="383.7" cy="164.1" r="3.0" fill="#15bac1" stroke="#262626" stroke-width="0.55" stroke-opacity="0.9"/>
<circle cx="382.2" cy="149.2" r="3.0" fill="#75cb63" stroke="#262626" stroke-width="0.55" stroke-opacity="0.9"/>
<circle cx="384.2" cy="165.6" r="3.0" fill="#24c0af" stroke="#262626" stroke-width="0.55" stroke-opacity="0.9"/>
<circle cx="385.7" cy="149.7" r="3.0" fill="#5fc976" stroke="#262626" stroke-width="0.55" stroke-opacity="0.9"/>
<circle cx="391.6" cy="162.6" r="3.0" fill="#51c883" stroke="#262626" stroke-width="0.55" stroke-opacity="0.9"/>
<circle cx="392.6" cy="163.3" r="3.0" fill="#43c790" stroke="#262626" stroke-width="0.55" stroke-opacity="0.9"/>
<circle cx="295.1" cy="126.3" r="4.5" fill="#ff0000" stroke="#262626" stroke-width="0.55" stroke-opacity="0.9"/>
<circle cx="369.1" cy="181.7" r="4.5" fill="#800080" stroke="#262626" stroke-width="0.55" stroke-opacity="0.9"/>
<path clip-path="url(#c2)" d="M295.1 126.3 L297.3 95.3 L297.3 118.8 L297.3 113.8 L297.8 115.3 L297.8 135.1 L300.4 110.2 L299.5 53.2 L300.4 130.3 L300.9 123.2 L300.9 127.2 L301.3 57.2 L302.2 49.7 L301.3 99.7 L301.7 69.1 L302.2 76.1 L303.5 80.3 L304.4 70 L306.1 119.7 L309.2 76.8 L306.1 64.7 L306.6 85.1 L307 90 L307.5 115.7 L308.8 77 L307.5 114.2 L308.8 81.2 L309.2 133.3 L307.9 128.5 L310.6 129.8 L312.3 123.2 L311.9 136 L313.2 59.8 L313.2 141.7 L313.6 82 L314.1 136.9 L315 95.3 L316.3 85.1 L314.5 89.1 L317.2 56.3 L317.6 140.4 L318.5 100.6 L319.8 105.4 L320.7 131.1 L321.1 139.1 L321.1 86 L322.3 72.2 L322 66.4 L322.9 70 L323.8 73.5 L323.8 87.8 L323.8 98.8 L325.8 153.5 L325 68.6 L327 130.3 L327.9 104.5 L328.8 134.2 L330.3 79.6 L330.6 106.7 L330.1 81.6 L331 158.4 L332.3 113.8 L332.3 143 L332.5 161.8 L333.3 60.7 L333.3 63.8 L333.8 165.8 L334 153.4 L335.5 165.8 L336.9 157.4 L337.6 132.9 L338.1 147 L338.9 152.4 L341.7 70.8 L343.4 156.9 L344.7 146.6 L347.3 171.3 L348.6 91.7 L349.8 162.8 L351 162.6 L351.3 173.7 L353.5 147.9 L357.9 162.6 L358.7 169.3 L360.2 174.2 L364.9 162.6 L364.7 176.7 L369.1 181.7 L369.7 177 L371.6 177.7 L372.8 154.2 L373.1 170.3 L378.5 172.2 L379.4 168.2 L381.6 172.2 L383.7 164.1 L382.2 149.2 L384.2 165.6 L385.7 149.7 L391.6 162.6 L392.6 163.3" fill="none" stroke="#f09a48" stroke-width="1.0" stroke-dasharray="3.5 1.5"/>
<circle cx="483.4" cy="126.4" r="3.0" fill="#3e26a8" stroke="#262626" stroke-width="0.55" stroke-opacity="0.9"/>
<circle cx="502.1" cy="95.2" r="3.0" fill="#4338cc" stroke="#262626" stroke-width="0.55" stroke-opacity="0.9"/>
<circle cx="488.3" cy="122.6" r="3.0" fill="#4132c0" stroke="#262626" stroke-width="0.55" stroke-opacity="0.9"/>
<circle cx="494.9" cy="117.6" r="3.0" fill="#453ed8" stroke="#262626" stroke-width="0.55" stroke-opacity="0.9"/>
<circle cx="504.3" cy="115.4" r="3.0" fill="#453ed8" stroke="#262626" stroke-width="0.55" stroke-opacity="0.9"/>
<circle cx="490" cy="134.7" r="3.0" fill="#474aed" stroke="#262626" stroke-width="0.55" stroke-opacity="0.9"/>
<circle cx="508.1" cy="110.5" r="3.0" fill="#453ed8" stroke="#262626" stroke-width="0.55" stroke-opacity="0.9"/>
<circle cx="486.1" cy="124.2" r="3.0" fill="#4132c0" stroke="#262626" stroke-width="0.55" stroke-opacity="0.9"/>
<circle cx="560.3" cy="53.3" r="3.0" fill="#4744e4" stroke="#262626" stroke-width="0.55" stroke-opacity="0.9"/>
<circle cx="498.2" cy="129.2" r="3.0" fill="#4744e4" stroke="#262626" stroke-width="0.55" stroke-opacity="0.9"/>
<circle cx="509.8" cy="122.6" r="3.0" fill="#4744e4" stroke="#262626" stroke-width="0.55" stroke-opacity="0.9"/>
<circle cx="527" cy="56.7" r="3.0" fill="#4338cc" stroke="#262626" stroke-width="0.55" stroke-opacity="0.9"/>
<circle cx="564.5" cy="49.7" r="3.0" fill="#4744e4" stroke="#262626" stroke-width="0.55" stroke-opacity="0.9"/>
<circle cx="526.1" cy="100.6" r="3.0" fill="#453ed8" stroke="#262626" stroke-width="0.55" stroke-opacity="0.9"/>
<circle cx="554.2" cy="69.1" r="3.0" fill="#4744e4" stroke="#262626" stroke-width="0.55" stroke-opacity="0.9"/>
<circle cx="537.3" cy="78.8" r="3.0" fill="#453ed8" stroke="#262626" stroke-width="0.55" stroke-opacity="0.9"/>
<circle cx="538.5" cy="89.7" r="3.0" fill="#4067fb" stroke="#262626" stroke-width="0.55" stroke-opacity="0.9"/>
<circle cx="565.3" cy="71.9" r="3.0" fill="#2a92ed" stroke="#262626" stroke-width="0.55" stroke-opacity="0.9"/>
<circle cx="515.9" cy="119.8" r="3.0" fill="#474aed" stroke="#262626" stroke-width="0.55" stroke-opacity="0.9"/>
<circle cx="545.8" cy="75.8" r="3.0" fill="#474aed" stroke="#262626" stroke-width="0.55" stroke-opacity="0.9"/>
<circle cx="567.6" cy="64.2" r="3.0" fill="#4260f7" stroke="#262626" stroke-width="0.55" stroke-opacity="0.9"/>
<circle cx="543.3" cy="84.8" r="3.0" fill="#4067fb" stroke="#262626" stroke-width="0.55" stroke-opacity="0.9"/>
<circle cx="541" cy="95.5" r="3.0" fill="#4067fb" stroke="#262626" stroke-width="0.55" stroke-opacity="0.9"/>
<circle cx="521.4" cy="116" r="3.0" fill="#474aed" stroke="#262626" stroke-width="0.55" stroke-opacity="0.9"/>
<circle cx="551.2" cy="77.6" r="3.0" fill="#4260f7" stroke="#262626" stroke-width="0.55" stroke-opacity="0.9"/>
<circle cx="560.9" cy="80" r="3.0" fill="#4067fb" stroke="#262626" stroke-width="0.55" stroke-opacity="0.9"/>
<circle cx="495.5" cy="133" r="3.0" fill="#4260f7" stroke="#262626" stroke-width="0.55" stroke-opacity="0.9"/>
<circle cx="522.5" cy="128.1" r="3.0" fill="#4455f2" stroke="#262626" stroke-width="0.55" stroke-opacity="0.9"/>
<circle cx="501" cy="124.8" r="3.0" fill="#453ed8" stroke="#262626" stroke-width="0.55" stroke-opacity="0.9"/>
<circle cx="502.1" cy="135.2" r="3.0" fill="#4067fb" stroke="#262626" stroke-width="0.55" stroke-opacity="0.9"/>
<circle cx="539.8" cy="123.1" r="3.0" fill="#4067fb" stroke="#262626" stroke-width="0.55" stroke-opacity="0.9"/>
<circle cx="494.4" cy="138.5" r="3.0" fill="#4067fb" stroke="#262626" stroke-width="0.55" stroke-opacity="0.9"/>
<circle cx="573" cy="59.4" r="3.0" fill="#4067fb" stroke="#262626" stroke-width="0.55" stroke-opacity="0.9"/>
<circle cx="486.1" cy="142.4" r="3.0" fill="#3e6efe" stroke="#262626" stroke-width="0.55" stroke-opacity="0.9"/>
<circle cx="552.4" cy="82.4" r="3.0" fill="#4067fb" stroke="#262626" stroke-width="0.55" stroke-opacity="0.9"/>
<circle cx="507" cy="137.4" r="3.0" fill="#4067fb" stroke="#262626" stroke-width="0.55" stroke-opacity="0.9"/>
<circle cx="517" cy="131.4" r="3.0" fill="#4067fb" stroke="#262626" stroke-width="0.55" stroke-opacity="0.9"/>
<circle cx="548.7" cy="105.4" r="3.0" fill="#239be7" stroke="#262626" stroke-width="0.55" stroke-opacity="0.9"/>
<circle cx="549.8" cy="100.4" r="3.0" fill="#3e6efe" stroke="#262626" stroke-width="0.55" stroke-opacity="0.9"/>
<circle cx="578.5" cy="55.8" r="3.0" fill="#3e6efe" stroke="#262626" stroke-width="0.55" stroke-opacity="0.9"/>
<circle cx="503.2" cy="140.7" r="3.0" fill="#3e6efe" stroke="#262626" stroke-width="0.55" stroke-opacity="0.9"/>
<circle cx="549.7" cy="101.1" r="3.0" fill="#3e6efe" stroke="#262626" stroke-width="0.55" stroke-opacity="0.9"/>
<circle cx="540.4" cy="105.5" r="3.0" fill="#4067fb" stroke="#262626" stroke-width="0.55" stroke-opacity="0.9"/>
<circle cx="536" cy="131.4" r="3.0" fill="#3e6efe" stroke="#262626" stroke-width="0.55" stroke-opacity="0.9"/>
<circle cx="523.6" cy="139.1" r="3.0" fill="#3e6efe" stroke="#262626" stroke-width="0.55" stroke-opacity="0.9"/>
<circle cx="558.5" cy="86.7" r="3.0" fill="#2e8bf1" stroke="#262626" stroke-width="0.55" stroke-opacity="0.9"/>
<circle cx="565.2" cy="72.1" r="3.0" fill="#239be7" stroke="#262626" stroke-width="0.55" stroke-opacity="0.9"/>
<circle cx="574.2" cy="67.9" r="3.0" fill="#239be7" stroke="#262626" stroke-width="0.55" stroke-opacity="0.9"/>
<circle cx="555.9" cy="98.8" r="3.0" fill="#3284f4" stroke="#262626" stroke-width="0.55" stroke-opacity="0.9"/>
<circle cx="570" cy="70.3" r="3.0" fill="#2e8bf1" stroke="#262626" stroke-width="0.55" stroke-opacity="0.9"/>
<circle cx="563.9" cy="87.9" r="3.0" fill="#2a92ed" stroke="#262626" stroke-width="0.55" stroke-opacity="0.9"/>
<circle cx="555.2" cy="100" r="3.0" fill="#3879fa" stroke="#262626" stroke-width="0.55" stroke-opacity="0.9"/>
<circle cx="506.5" cy="153.2" r="3.0" fill="#2e8bf1" stroke="#262626" stroke-width="0.55" stroke-opacity="0.9"/>
<circle cx="577.4" cy="65.2" r="3.0" fill="#239be7" stroke="#262626" stroke-width="0.55" stroke-opacity="0.9"/>
<circle cx="543.7" cy="129.7" r="3.0" fill="#0ab5ce" stroke="#262626" stroke-width="0.55" stroke-opacity="0.9"/>
<circle cx="548.2" cy="108.1" r="3.0" fill="#2e8bf1" stroke="#262626" stroke-width="0.55" stroke-opacity="0.9"/>
<circle cx="541.5" cy="134.1" r="3.0" fill="#239be7" stroke="#262626" stroke-width="0.55" stroke-opacity="0.9"/>
<circle cx="548.6" cy="106.6" r="3.0" fill="#2e8bf1" stroke="#262626" stroke-width="0.55" stroke-opacity="0.9"/>
<circle cx="571.8" cy="81.8" r="3.0" fill="#2a92ed" stroke="#262626" stroke-width="0.55" stroke-opacity="0.9"/>
<circle cx="492.2" cy="158.7" r="3.0" fill="#2895ec" stroke="#262626" stroke-width="0.55" stroke-opacity="0.9"/>
<circle cx="549.7" cy="114.3" r="3.0" fill="#2a92ed" stroke="#262626" stroke-width="0.55" stroke-opacity="0.9"/>
<circle cx="539.8" cy="143" r="3.0" fill="#0ab5ce" stroke="#262626" stroke-width="0.55" stroke-opacity="0.9"/>
<circle cx="516.4" cy="162" r="3.0" fill="#239be7" stroke="#262626" stroke-width="0.55" stroke-opacity="0.9"/>
<circle cx="578.5" cy="61.2" r="3.0" fill="#2e8bf1" stroke="#262626" stroke-width="0.55" stroke-opacity="0.9"/>
<circle cx="576.7" cy="63.6" r="3.0" fill="#239be7" stroke="#262626" stroke-width="0.55" stroke-opacity="0.9"/>
<circle cx="534.8" cy="152.7" r="3.0" fill="#1aa3e0" stroke="#262626" stroke-width="0.55" stroke-opacity="0.9"/>
<circle cx="513.6" cy="165.3" r="3.0" fill="#239be7" stroke="#262626" stroke-width="0.55" stroke-opacity="0.9"/>
<circle cx="521.4" cy="157.1" r="3.0" fill="#239be7" stroke="#262626" stroke-width="0.55" stroke-opacity="0.9"/>
<circle cx="548.1" cy="132.5" r="3.0" fill="#14a9db" stroke="#262626" stroke-width="0.55" stroke-opacity="0.9"/>
<circle cx="542" cy="152.1" r="3.0" fill="#2fc5a2" stroke="#262626" stroke-width="0.55" stroke-opacity="0.9"/>
<circle cx="528.8" cy="156.5" r="3.0" fill="#0ab5ce" stroke="#262626" stroke-width="0.55" stroke-opacity="0.9"/>
<circle cx="554.1" cy="146.3" r="3.0" fill="#0ab5ce" stroke="#262626" stroke-width="0.55" stroke-opacity="0.9"/>
<circle cx="503.2" cy="171.4" r="3.0" fill="#0ab5ce" stroke="#262626" stroke-width="0.55" stroke-opacity="0.9"/>
<circle cx="570" cy="91.5" r="3.0" fill="#0ab5ce" stroke="#262626" stroke-width="0.55" stroke-opacity="0.9"/>
<circle cx="537" cy="162" r="3.0" fill="#2fc5a2" stroke="#262626" stroke-width="0.55" stroke-opacity="0.9"/>
<circle cx="512.5" cy="173" r="3.0" fill="#24c0af" stroke="#262626" stroke-width="0.55" stroke-opacity="0.9"/>
<circle cx="523.8" cy="163.1" r="3.0" fill="#43c790" stroke="#262626" stroke-width="0.55" stroke-opacity="0.9"/>
<circle cx="519.4" cy="168.6" r="3.0" fill="#43c790" stroke="#262626" stroke-width="0.55" stroke-opacity="0.9"/>
<circle cx="505.9" cy="174.1" r="3.0" fill="#51c883" stroke="#262626" stroke-width="0.55" stroke-opacity="0.9"/>
<circle cx="533.2" cy="163.1" r="3.0" fill="#8cca53" stroke="#262626" stroke-width="0.55" stroke-opacity="0.9"/>
<circle cx="517" cy="176.9" r="3.0" fill="#fcd42d" stroke="#262626" stroke-width="0.55" stroke-opacity="0.9"/>
<circle cx="523.8" cy="173" r="3.0" fill="#fcd42d" stroke="#262626" stroke-width="0.55" stroke-opacity="0.9"/>
<circle cx="516.1" cy="175.2" r="3.0" fill="#9cc74a" stroke="#262626" stroke-width="0.55" stroke-opacity="0.9"/>
<circle cx="511.4" cy="179.6" r="3.0" fill="#fcd42d" stroke="#262626" stroke-width="0.55" stroke-opacity="0.9"/>
<circle cx="519.2" cy="178.5" r="3.0" fill="#fccd32" stroke="#262626" stroke-width="0.55" stroke-opacity="0.9"/>
<circle cx="544.7" cy="154.3" r="3.0" fill="#adc542" stroke="#262626" stroke-width="0.55" stroke-opacity="0.9"/>
<circle cx="538.1" cy="170.3" r="3.0" fill="#fdc339" stroke="#262626" stroke-width="0.55" stroke-opacity="0.9"/>
<circle cx="527.1" cy="171.9" r="3.0" fill="#fdc339" stroke="#262626" stroke-width="0.55" stroke-opacity="0.9"/>
<circle cx="522.5" cy="176.3" r="3.0" fill="#fdc339" stroke="#262626" stroke-width="0.55" stroke-opacity="0.9"/>
<circle cx="549.1" cy="149.4" r="3.0" fill="#c5c135" stroke="#262626" stroke-width="0.55" stroke-opacity="0.9"/>
<circle cx="539.2" cy="166.4" r="3.0" fill="#f4be37" stroke="#262626" stroke-width="0.55" stroke-opacity="0.9"/>
<circle cx="543.6" cy="163.1" r="3.0" fill="#fbdc28" stroke="#262626" stroke-width="0.55" stroke-opacity="0.9"/>
<circle cx="580.9" cy="70.9" r="4.5" fill="#00ff00" stroke="#262626" stroke-width="0.55" stroke-opacity="0.9"/>
<circle cx="504.8" cy="181.9" r="4.5" fill="#800080" stroke="#262626" stroke-width="0.55" stroke-opacity="0.9"/>
<path clip-path="url(#c3)" d="M483.4 126.4 L502.1 95.2 L488.3 122.6 L494.9 117.6 L504.3 115.4 L490 134.7 L508.1 110.5 L486.1 124.2 L560.3 53.3 L498.2 129.2 L509.8 122.6 L527 56.7 L564.5 49.7 L526.1 100.6 L554.2 69.1 L537.3 78.8 L538.5 89.7 L565.3 71.9 L515.9 119.8 L545.8 75.8 L567.6 64.2 L543.3 84.8 L541 95.5 L521.4 116 L551.2 77.6 L560.9 80 L495.5 133 L522.5 128.1 L501 124.8 L502.1 135.2 L539.8 123.1 L494.4 138.5 L573 59.4 L486.1 142.4 L552.4 82.4 L507 137.4 L517 131.4 L548.7 105.4 L549.8 100.4 L578.5 55.8 L503.2 140.7 L549.7 101.1 L540.4 105.5 L536 131.4 L523.6 139.1 L558.5 86.7 L565.2 72.1 L574.2 67.9 L555.9 98.8 L570 70.3 L563.9 87.9 L555.2 100 L506.5 153.2 L577.4 65.2 L543.7 129.7 L548.2 108.1 L541.5 134.1 L548.6 106.6 L571.8 81.8 L492.2 158.7 L549.7 114.3 L539.8 143 L516.4 162 L578.5 61.2 L576.7 63.6 L534.8 152.7 L513.6 165.3 L521.4 157.1 L548.1 132.5 L542 152.1 L580.9 70.9 L528.8 156.5 L554.1 146.3 L503.2 171.4 L570 91.5 L537 162 L512.5 173 L523.8 163.1 L519.4 168.6 L505.9 174.1 L533.2 163.1 L517 176.9 L523.8 173 L516.1 175.2 L504.8 181.9 L511.4 179.6 L519.2 178.5 L544.7 154.3 L538.1 170.3 L527.1 171.9 L522.5 176.3 L549.1 149.4 L539.2 166.4 L543.6 163.1" fill="none" stroke="#38b038" stroke-width="1.05" stroke-dasharray="3.4 1.8"/>
<g clip-path="url(#c4)">
<line x1="91" y1="336.34" x2="235.5" y2="336.34" stroke="#ff3a44" stroke-width="1.05" stroke-dasharray="3.2 2.7"/>
<line x1="91" y1="388.97" x2="235.5" y2="388.97" stroke="#ff3a44" stroke-width="1.05" stroke-dasharray="3.2 2.7"/>
<path d="M90.98 361.68 L92.35 364.89 L93.73 367.68 L95.11 365.21 L96.48 363.28 L97.86 360.33 L99.23 365.27 L100.61 363.39 L101.99 365.36 L103.36 374.65 L104.74 358.98 L106.12 365.14 L107.49 363.74 L108.87 362.06 L110.25 367.49 L111.62 356.65 L113 362.89 L114.38 361.55 L115.75 363.1 L117.13 363.86 L118.5 358.01 L119.88 365.32 L121.26 377.36 L122.63 364.31 L124.01 364.91 L125.39 361.3 L126.76 368.46 L128.14 260.68 L129.52 364.76 L130.89 363.08 L132.27 361.3 L133.65 367.88 L135.02 363.23 L136.4 353.56 L137.77 383.55 L139.15 364.65 L140.53 296.86 L141.9 363.73 L143.28 364.2 L144.66 363.07 L146.03 361.3 L147.41 364.26 L148.79 368.65 L150.16 361.3 L151.54 364.5 L152.92 363.11 L154.29 363.32 L155.67 323.95 L157.04 362.47 L158.42 364.31 L159.8 361.42 L161.17 365.02 L162.55 363.77 L163.93 362.35 L165.3 364.88 L166.68 367.68 L168.06 365.35 L169.43 362.72 L170.81 362.32 L172.18 363.26 L173.56 368.07 L174.94 363.85 L176.31 362.98 L177.69 363.21 L179.07 369.62 L180.44 363.53 L181.82 353.94 L183.2 362.4 L184.57 363.49 L185.95 363.05 L187.33 364.44 L188.7 362.96 L190.08 363.09 L191.45 362.29 L192.83 362.69 L194.21 363.92 L195.58 363.69 L196.96 363.04 L198.34 364.52 L199.71 363.51 L201.09 361.3 L202.47 364.31 L203.84 364.44 L205.22 362.81 L206.6 364.28 L207.97 364.01 L209.35 363.68 L210.72 362.57 L212.1 364.39 L213.48 363.54 L214.85 377.16 L216.23 362.54 L217.61 362.69 L218.98 366.33 L220.36 363.94 L221.74 363.62 L223.11 363.75 L224.49 362.54 L225.87 362.37 L227.24 364.23 L228.62 364.17 L229.99 364.04 L231.37 364.04 L232.75 363.46 L234.12 363.22" fill="none" stroke="#55a5da" stroke-width="1.1" stroke-linejoin="round"/>
</g>
<circle cx="90.98" cy="361.68" r="2.55" fill="none" stroke="#55a5da" stroke-width="0.95"/>
<circle cx="92.35" cy="364.89" r="2.55" fill="none" stroke="#55a5da" stroke-width="0.95"/>
<circle cx="93.73" cy="367.68" r="2.55" fill="none" stroke="#55a5da" stroke-width="0.95"/>
<circle cx="95.11" cy="365.21" r="2.55" fill="none" stroke="#55a5da" stroke-width="0.95"/>
<circle cx="96.48" cy="363.28" r="2.55" fill="none" stroke="#55a5da" stroke-width="0.95"/>
<circle cx="97.86" cy="360.33" r="2.55" fill="none" stroke="#55a5da" stroke-width="0.95"/>
<circle cx="99.23" cy="365.27" r="2.55" fill="none" stroke="#55a5da" stroke-width="0.95"/>
<circle cx="100.61" cy="363.39" r="2.55" fill="none" stroke="#55a5da" stroke-width="0.95"/>
<circle cx="101.99" cy="365.36" r="2.55" fill="none" stroke="#55a5da" stroke-width="0.95"/>
<circle cx="103.36" cy="374.65" r="2.55" fill="none" stroke="#55a5da" stroke-width="0.95"/>
<circle cx="104.74" cy="358.98" r="2.55" fill="none" stroke="#55a5da" stroke-width="0.95"/>
<circle cx="106.12" cy="365.14" r="2.55" fill="none" stroke="#55a5da" stroke-width="0.95"/>
<circle cx="107.49" cy="363.74" r="2.55" fill="none" stroke="#55a5da" stroke-width="0.95"/>
<circle cx="108.87" cy="362.06" r="2.55" fill="none" stroke="#55a5da" stroke-width="0.95"/>
<circle cx="110.25" cy="367.49" r="2.55" fill="none" stroke="#55a5da" stroke-width="0.95"/>
<circle cx="111.62" cy="356.65" r="2.55" fill="none" stroke="#55a5da" stroke-width="0.95"/>
<circle cx="113" cy="362.89" r="2.55" fill="none" stroke="#55a5da" stroke-width="0.95"/>
<circle cx="114.38" cy="361.55" r="2.55" fill="none" stroke="#55a5da" stroke-width="0.95"/>
<circle cx="115.75" cy="363.1" r="2.55" fill="none" stroke="#55a5da" stroke-width="0.95"/>
<circle cx="117.13" cy="363.86" r="2.55" fill="none" stroke="#55a5da" stroke-width="0.95"/>
<circle cx="118.5" cy="358.01" r="2.55" fill="none" stroke="#55a5da" stroke-width="0.95"/>
<circle cx="119.88" cy="365.32" r="2.55" fill="none" stroke="#55a5da" stroke-width="0.95"/>
<circle cx="121.26" cy="377.36" r="2.55" fill="none" stroke="#55a5da" stroke-width="0.95"/>
<circle cx="122.63" cy="364.31" r="2.55" fill="none" stroke="#55a5da" stroke-width="0.95"/>
<circle cx="124.01" cy="364.91" r="2.55" fill="none" stroke="#55a5da" stroke-width="0.95"/>
<circle cx="125.39" cy="361.3" r="2.55" fill="none" stroke="#55a5da" stroke-width="0.95"/>
<circle cx="126.76" cy="368.46" r="2.55" fill="none" stroke="#55a5da" stroke-width="0.95"/>
<circle cx="128.14" cy="260.68" r="2.55" fill="none" stroke="#55a5da" stroke-width="0.95"/>
<circle cx="129.52" cy="364.76" r="2.55" fill="none" stroke="#55a5da" stroke-width="0.95"/>
<circle cx="130.89" cy="363.08" r="2.55" fill="none" stroke="#55a5da" stroke-width="0.95"/>
<circle cx="132.27" cy="361.3" r="2.55" fill="none" stroke="#55a5da" stroke-width="0.95"/>
<circle cx="133.65" cy="367.88" r="2.55" fill="none" stroke="#55a5da" stroke-width="0.95"/>
<circle cx="135.02" cy="363.23" r="2.55" fill="none" stroke="#55a5da" stroke-width="0.95"/>
<circle cx="136.4" cy="353.56" r="2.55" fill="none" stroke="#55a5da" stroke-width="0.95"/>
<circle cx="137.77" cy="383.55" r="2.55" fill="none" stroke="#55a5da" stroke-width="0.95"/>
<circle cx="139.15" cy="364.65" r="2.55" fill="none" stroke="#55a5da" stroke-width="0.95"/>
<circle cx="140.53" cy="296.86" r="2.55" fill="none" stroke="#55a5da" stroke-width="0.95"/>
<circle cx="141.9" cy="363.73" r="2.55" fill="none" stroke="#55a5da" stroke-width="0.95"/>
<circle cx="143.28" cy="364.2" r="2.55" fill="none" stroke="#55a5da" stroke-width="0.95"/>
<circle cx="144.66" cy="363.07" r="2.55" fill="none" stroke="#55a5da" stroke-width="0.95"/>
<circle cx="146.03" cy="361.3" r="2.55" fill="none" stroke="#55a5da" stroke-width="0.95"/>
<circle cx="147.41" cy="364.26" r="2.55" fill="none" stroke="#55a5da" stroke-width="0.95"/>
<circle cx="148.79" cy="368.65" r="2.55" fill="none" stroke="#55a5da" stroke-width="0.95"/>
<circle cx="150.16" cy="361.3" r="2.55" fill="none" stroke="#55a5da" stroke-width="0.95"/>
<circle cx="151.54" cy="364.5" r="2.55" fill="none" stroke="#55a5da" stroke-width="0.95"/>
<circle cx="152.92" cy="363.11" r="2.55" fill="none" stroke="#55a5da" stroke-width="0.95"/>
<circle cx="154.29" cy="363.32" r="2.55" fill="none" stroke="#55a5da" stroke-width="0.95"/>
<circle cx="155.67" cy="323.95" r="2.55" fill="none" stroke="#55a5da" stroke-width="0.95"/>
<circle cx="157.04" cy="362.47" r="2.55" fill="none" stroke="#55a5da" stroke-width="0.95"/>
<circle cx="158.42" cy="364.31" r="2.55" fill="none" stroke="#55a5da" stroke-width="0.95"/>
<circle cx="159.8" cy="361.42" r="2.55" fill="none" stroke="#55a5da" stroke-width="0.95"/>
<circle cx="161.17" cy="365.02" r="2.55" fill="none" stroke="#55a5da" stroke-width="0.95"/>
<circle cx="162.55" cy="363.77" r="2.55" fill="none" stroke="#55a5da" stroke-width="0.95"/>
<circle cx="163.93" cy="362.35" r="2.55" fill="none" stroke="#55a5da" stroke-width="0.95"/>
<circle cx="165.3" cy="364.88" r="2.55" fill="none" stroke="#55a5da" stroke-width="0.95"/>
<circle cx="166.68" cy="367.68" r="2.55" fill="none" stroke="#55a5da" stroke-width="0.95"/>
<circle cx="168.06" cy="365.35" r="2.55" fill="none" stroke="#55a5da" stroke-width="0.95"/>
<circle cx="169.43" cy="362.72" r="2.55" fill="none" stroke="#55a5da" stroke-width="0.95"/>
<circle cx="170.81" cy="362.32" r="2.55" fill="none" stroke="#55a5da" stroke-width="0.95"/>
<circle cx="172.18" cy="363.26" r="2.55" fill="none" stroke="#55a5da" stroke-width="0.95"/>
<circle cx="173.56" cy="368.07" r="2.55" fill="none" stroke="#55a5da" stroke-width="0.95"/>
<circle cx="174.94" cy="363.85" r="2.55" fill="none" stroke="#55a5da" stroke-width="0.95"/>
<circle cx="176.31" cy="362.98" r="2.55" fill="none" stroke="#55a5da" stroke-width="0.95"/>
<circle cx="177.69" cy="363.21" r="2.55" fill="none" stroke="#55a5da" stroke-width="0.95"/>
<circle cx="179.07" cy="369.62" r="2.55" fill="none" stroke="#55a5da" stroke-width="0.95"/>
<circle cx="180.44" cy="363.53" r="2.55" fill="none" stroke="#55a5da" stroke-width="0.95"/>
<circle cx="181.82" cy="353.94" r="2.55" fill="none" stroke="#55a5da" stroke-width="0.95"/>
<circle cx="183.2" cy="362.4" r="2.55" fill="none" stroke="#55a5da" stroke-width="0.95"/>
<circle cx="184.57" cy="363.49" r="2.55" fill="none" stroke="#55a5da" stroke-width="0.95"/>
<circle cx="185.95" cy="363.05" r="2.55" fill="none" stroke="#55a5da" stroke-width="0.95"/>
<circle cx="187.33" cy="364.44" r="2.55" fill="none" stroke="#55a5da" stroke-width="0.95"/>
<circle cx="188.7" cy="362.96" r="2.55" fill="none" stroke="#55a5da" stroke-width="0.95"/>
<circle cx="190.08" cy="363.09" r="2.55" fill="none" stroke="#55a5da" stroke-width="0.95"/>
<circle cx="191.45" cy="362.29" r="2.55" fill="none" stroke="#55a5da" stroke-width="0.95"/>
<circle cx="192.83" cy="362.69" r="2.55" fill="none" stroke="#55a5da" stroke-width="0.95"/>
<circle cx="194.21" cy="363.92" r="2.55" fill="none" stroke="#55a5da" stroke-width="0.95"/>
<circle cx="195.58" cy="363.69" r="2.55" fill="none" stroke="#55a5da" stroke-width="0.95"/>
<circle cx="196.96" cy="363.04" r="2.55" fill="none" stroke="#55a5da" stroke-width="0.95"/>
<circle cx="198.34" cy="364.52" r="2.55" fill="none" stroke="#55a5da" stroke-width="0.95"/>
<circle cx="199.71" cy="363.51" r="2.55" fill="none" stroke="#55a5da" stroke-width="0.95"/>
<circle cx="201.09" cy="361.3" r="2.55" fill="none" stroke="#55a5da" stroke-width="0.95"/>
<circle cx="202.47" cy="364.31" r="2.55" fill="none" stroke="#55a5da" stroke-width="0.95"/>
<circle cx="203.84" cy="364.44" r="2.55" fill="none" stroke="#55a5da" stroke-width="0.95"/>
<circle cx="205.22" cy="362.81" r="2.55" fill="none" stroke="#55a5da" stroke-width="0.95"/>
<circle cx="206.6" cy="364.28" r="2.55" fill="none" stroke="#55a5da" stroke-width="0.95"/>
<circle cx="207.97" cy="364.01" r="2.55" fill="none" stroke="#55a5da" stroke-width="0.95"/>
<circle cx="209.35" cy="363.68" r="2.55" fill="none" stroke="#55a5da" stroke-width="0.95"/>
<circle cx="210.72" cy="362.57" r="2.55" fill="none" stroke="#55a5da" stroke-width="0.95"/>
<circle cx="212.1" cy="364.39" r="2.55" fill="none" stroke="#55a5da" stroke-width="0.95"/>
<circle cx="213.48" cy="363.54" r="2.55" fill="none" stroke="#55a5da" stroke-width="0.95"/>
<circle cx="214.85" cy="377.16" r="2.55" fill="none" stroke="#55a5da" stroke-width="0.95"/>
<circle cx="216.23" cy="362.54" r="2.55" fill="none" stroke="#55a5da" stroke-width="0.95"/>
<circle cx="217.61" cy="362.69" r="2.55" fill="none" stroke="#55a5da" stroke-width="0.95"/>
<circle cx="218.98" cy="366.33" r="2.55" fill="none" stroke="#55a5da" stroke-width="0.95"/>
<circle cx="220.36" cy="363.94" r="2.55" fill="none" stroke="#55a5da" stroke-width="0.95"/>
<circle cx="221.74" cy="363.62" r="2.55" fill="none" stroke="#55a5da" stroke-width="0.95"/>
<circle cx="223.11" cy="363.75" r="2.55" fill="none" stroke="#55a5da" stroke-width="0.95"/>
<circle cx="224.49" cy="362.54" r="2.55" fill="none" stroke="#55a5da" stroke-width="0.95"/>
<circle cx="225.87" cy="362.37" r="2.55" fill="none" stroke="#55a5da" stroke-width="0.95"/>
<circle cx="227.24" cy="364.23" r="2.55" fill="none" stroke="#55a5da" stroke-width="0.95"/>
<circle cx="228.62" cy="364.17" r="2.55" fill="none" stroke="#55a5da" stroke-width="0.95"/>
<circle cx="229.99" cy="364.04" r="2.55" fill="none" stroke="#55a5da" stroke-width="0.95"/>
<circle cx="231.37" cy="364.04" r="2.55" fill="none" stroke="#55a5da" stroke-width="0.95"/>
<circle cx="232.75" cy="363.46" r="2.55" fill="none" stroke="#55a5da" stroke-width="0.95"/>
<circle cx="234.12" cy="363.22" r="2.55" fill="none" stroke="#55a5da" stroke-width="0.95"/>
<line x1="89.6" y1="362.46" x2="235.5" y2="362.46" stroke="#ff0000" stroke-opacity="0.6" stroke-width="1.3"/>
<g clip-path="url(#c5)">
<line x1="282.6" y1="316.21" x2="427.5" y2="316.21" stroke="#ff3a44" stroke-width="1.05" stroke-dasharray="3.2 2.7"/>
<line x1="282.6" y1="382.26" x2="427.5" y2="382.26" stroke="#ff3a44" stroke-width="1.05" stroke-dasharray="3.2 2.7"/>
<path d="M282.58 351.59 L283.96 353.03 L285.34 354.91 L286.72 351 L288.1 349.9 L289.48 347.74 L290.86 349.21 L292.24 350.18 L293.62 349.61 L295 366.78 L296.38 352.75 L297.76 342.68 L299.14 356.46 L300.52 348.18 L301.9 348.61 L303.28 350.87 L304.66 350.83 L306.04 352.48 L307.42 349.52 L308.8 352.71 L310.18 343.3 L311.56 351.89 L312.94 369.36 L314.32 351.16 L315.7 352.76 L317.08 345.78 L318.47 355.94 L319.85 248.1 L321.23 351.03 L322.61 352.91 L323.99 348.18 L325.37 349.63 L326.75 352.23 L328.13 339.54 L329.51 378.65 L330.89 351.02 L332.27 253.52 L333.65 348.32 L335.03 347.52 L336.41 350.46 L337.79 350.36 L339.17 346.81 L340.55 355.43 L341.93 351.14 L343.31 351.58 L344.69 348.44 L346.07 352.15 L347.45 273.9 L348.83 347.75 L350.21 350.11 L351.59 352.24 L352.97 350.03 L354.35 352.9 L355.73 350.11 L357.11 347.6 L358.49 348.24 L359.87 349.17 L361.25 351.6 L362.63 351.01 L364.01 351.29 L365.39 349.43 L366.77 350.17 L368.15 349.41 L369.53 350.79 L370.91 368.33 L372.29 349.31 L373.67 331.69 L375.05 349.19 L376.43 349.33 L377.81 349.29 L379.19 349.53 L380.57 351.11 L381.95 350.21 L383.33 350.71 L384.71 351.71 L386.09 351.71 L387.47 350.94 L388.85 351.01 L390.23 349.68 L391.62 348.87 L393 350.43 L394.38 348.93 L395.76 348.77 L397.14 348.87 L398.52 350.68 L399.9 351.12 L401.28 351.11 L402.66 351.2 L404.04 351.17 L405.42 349.89 L406.8 364.2 L408.18 349.22 L409.56 350.33 L410.94 349.8 L412.32 349.35 L413.7 351.54 L415.08 349.78 L416.46 349.01 L417.84 349.4 L419.22 349.5 L420.6 350.34 L421.98 351.25 L423.36 349.38 L424.74 350.78 L426.12 349.35" fill="none" stroke="#d9693a" stroke-width="1.1" stroke-linejoin="round"/>
</g>
<circle cx="282.58" cy="351.59" r="2.55" fill="none" stroke="#d9693a" stroke-width="0.95"/>
<circle cx="283.96" cy="353.03" r="2.55" fill="none" stroke="#d9693a" stroke-width="0.95"/>
<circle cx="285.34" cy="354.91" r="2.55" fill="none" stroke="#d9693a" stroke-width="0.95"/>
<circle cx="286.72" cy="351" r="2.55" fill="none" stroke="#d9693a" stroke-width="0.95"/>
<circle cx="288.1" cy="349.9" r="2.55" fill="none" stroke="#d9693a" stroke-width="0.95"/>
<circle cx="289.48" cy="347.74" r="2.55" fill="none" stroke="#d9693a" stroke-width="0.95"/>
<circle cx="290.86" cy="349.21" r="2.55" fill="none" stroke="#d9693a" stroke-width="0.95"/>
<circle cx="292.24" cy="350.18" r="2.55" fill="none" stroke="#d9693a" stroke-width="0.95"/>
<circle cx="293.62" cy="349.61" r="2.55" fill="none" stroke="#d9693a" stroke-width="0.95"/>
<circle cx="295" cy="366.78" r="2.55" fill="none" stroke="#d9693a" stroke-width="0.95"/>
<circle cx="296.38" cy="352.75" r="2.55" fill="none" stroke="#d9693a" stroke-width="0.95"/>
<circle cx="297.76" cy="342.68" r="2.55" fill="none" stroke="#d9693a" stroke-width="0.95"/>
<circle cx="299.14" cy="356.46" r="2.55" fill="none" stroke="#d9693a" stroke-width="0.95"/>
<circle cx="300.52" cy="348.18" r="2.55" fill="none" stroke="#d9693a" stroke-width="0.95"/>
<circle cx="301.9" cy="348.61" r="2.55" fill="none" stroke="#d9693a" stroke-width="0.95"/>
<circle cx="303.28" cy="350.87" r="2.55" fill="none" stroke="#d9693a" stroke-width="0.95"/>
<circle cx="304.66" cy="350.83" r="2.55" fill="none" stroke="#d9693a" stroke-width="0.95"/>
<circle cx="306.04" cy="352.48" r="2.55" fill="none" stroke="#d9693a" stroke-width="0.95"/>
<circle cx="307.42" cy="349.52" r="2.55" fill="none" stroke="#d9693a" stroke-width="0.95"/>
<circle cx="308.8" cy="352.71" r="2.55" fill="none" stroke="#d9693a" stroke-width="0.95"/>
<circle cx="310.18" cy="343.3" r="2.55" fill="none" stroke="#d9693a" stroke-width="0.95"/>
<circle cx="311.56" cy="351.89" r="2.55" fill="none" stroke="#d9693a" stroke-width="0.95"/>
<circle cx="312.94" cy="369.36" r="2.55" fill="none" stroke="#d9693a" stroke-width="0.95"/>
<circle cx="314.32" cy="351.16" r="2.55" fill="none" stroke="#d9693a" stroke-width="0.95"/>
<circle cx="315.7" cy="352.76" r="2.55" fill="none" stroke="#d9693a" stroke-width="0.95"/>
<circle cx="317.08" cy="345.78" r="2.55" fill="none" stroke="#d9693a" stroke-width="0.95"/>
<circle cx="318.47" cy="355.94" r="2.55" fill="none" stroke="#d9693a" stroke-width="0.95"/>
<circle cx="319.85" cy="248.1" r="2.55" fill="none" stroke="#d9693a" stroke-width="0.95"/>
<circle cx="321.23" cy="351.03" r="2.55" fill="none" stroke="#d9693a" stroke-width="0.95"/>
<circle cx="322.61" cy="352.91" r="2.55" fill="none" stroke="#d9693a" stroke-width="0.95"/>
<circle cx="323.99" cy="348.18" r="2.55" fill="none" stroke="#d9693a" stroke-width="0.95"/>
<circle cx="325.37" cy="349.63" r="2.55" fill="none" stroke="#d9693a" stroke-width="0.95"/>
<circle cx="326.75" cy="352.23" r="2.55" fill="none" stroke="#d9693a" stroke-width="0.95"/>
<circle cx="328.13" cy="339.54" r="2.55" fill="none" stroke="#d9693a" stroke-width="0.95"/>
<circle cx="329.51" cy="378.65" r="2.55" fill="none" stroke="#d9693a" stroke-width="0.95"/>
<circle cx="330.89" cy="351.02" r="2.55" fill="none" stroke="#d9693a" stroke-width="0.95"/>
<circle cx="332.27" cy="253.52" r="2.55" fill="none" stroke="#d9693a" stroke-width="0.95"/>
<circle cx="333.65" cy="348.32" r="2.55" fill="none" stroke="#d9693a" stroke-width="0.95"/>
<circle cx="335.03" cy="347.52" r="2.55" fill="none" stroke="#d9693a" stroke-width="0.95"/>
<circle cx="336.41" cy="350.46" r="2.55" fill="none" stroke="#d9693a" stroke-width="0.95"/>
<circle cx="337.79" cy="350.36" r="2.55" fill="none" stroke="#d9693a" stroke-width="0.95"/>
<circle cx="339.17" cy="346.81" r="2.55" fill="none" stroke="#d9693a" stroke-width="0.95"/>
<circle cx="340.55" cy="355.43" r="2.55" fill="none" stroke="#d9693a" stroke-width="0.95"/>
<circle cx="341.93" cy="351.14" r="2.55" fill="none" stroke="#d9693a" stroke-width="0.95"/>
<circle cx="343.31" cy="351.58" r="2.55" fill="none" stroke="#d9693a" stroke-width="0.95"/>
<circle cx="344.69" cy="348.44" r="2.55" fill="none" stroke="#d9693a" stroke-width="0.95"/>
<circle cx="346.07" cy="352.15" r="2.55" fill="none" stroke="#d9693a" stroke-width="0.95"/>
<circle cx="347.45" cy="273.9" r="2.55" fill="none" stroke="#d9693a" stroke-width="0.95"/>
<circle cx="348.83" cy="347.75" r="2.55" fill="none" stroke="#d9693a" stroke-width="0.95"/>
<circle cx="350.21" cy="350.11" r="2.55" fill="none" stroke="#d9693a" stroke-width="0.95"/>
<circle cx="351.59" cy="352.24" r="2.55" fill="none" stroke="#d9693a" stroke-width="0.95"/>
<circle cx="352.97" cy="350.03" r="2.55" fill="none" stroke="#d9693a" stroke-width="0.95"/>
<circle cx="354.35" cy="352.9" r="2.55" fill="none" stroke="#d9693a" stroke-width="0.95"/>
<circle cx="355.73" cy="350.11" r="2.55" fill="none" stroke="#d9693a" stroke-width="0.95"/>
<circle cx="357.11" cy="347.6" r="2.55" fill="none" stroke="#d9693a" stroke-width="0.95"/>
<circle cx="358.49" cy="348.24" r="2.55" fill="none" stroke="#d9693a" stroke-width="0.95"/>
<circle cx="359.87" cy="349.17" r="2.55" fill="none" stroke="#d9693a" stroke-width="0.95"/>
<circle cx="361.25" cy="351.6" r="2.55" fill="none" stroke="#d9693a" stroke-width="0.95"/>
<circle cx="362.63" cy="351.01" r="2.55" fill="none" stroke="#d9693a" stroke-width="0.95"/>
<circle cx="364.01" cy="351.29" r="2.55" fill="none" stroke="#d9693a" stroke-width="0.95"/>
<circle cx="365.39" cy="349.43" r="2.55" fill="none" stroke="#d9693a" stroke-width="0.95"/>
<circle cx="366.77" cy="350.17" r="2.55" fill="none" stroke="#d9693a" stroke-width="0.95"/>
<circle cx="368.15" cy="349.41" r="2.55" fill="none" stroke="#d9693a" stroke-width="0.95"/>
<circle cx="369.53" cy="350.79" r="2.55" fill="none" stroke="#d9693a" stroke-width="0.95"/>
<circle cx="370.91" cy="368.33" r="2.55" fill="none" stroke="#d9693a" stroke-width="0.95"/>
<circle cx="372.29" cy="349.31" r="2.55" fill="none" stroke="#d9693a" stroke-width="0.95"/>
<circle cx="373.67" cy="331.69" r="2.55" fill="none" stroke="#d9693a" stroke-width="0.95"/>
<circle cx="375.05" cy="349.19" r="2.55" fill="none" stroke="#d9693a" stroke-width="0.95"/>
<circle cx="376.43" cy="349.33" r="2.55" fill="none" stroke="#d9693a" stroke-width="0.95"/>
<circle cx="377.81" cy="349.29" r="2.55" fill="none" stroke="#d9693a" stroke-width="0.95"/>
<circle cx="379.19" cy="349.53" r="2.55" fill="none" stroke="#d9693a" stroke-width="0.95"/>
<circle cx="380.57" cy="351.11" r="2.55" fill="none" stroke="#d9693a" stroke-width="0.95"/>
<circle cx="381.95" cy="350.21" r="2.55" fill="none" stroke="#d9693a" stroke-width="0.95"/>
<circle cx="383.33" cy="350.71" r="2.55" fill="none" stroke="#d9693a" stroke-width="0.95"/>
<circle cx="384.71" cy="351.71" r="2.55" fill="none" stroke="#d9693a" stroke-width="0.95"/>
<circle cx="386.09" cy="351.71" r="2.55" fill="none" stroke="#d9693a" stroke-width="0.95"/>
<circle cx="387.47" cy="350.94" r="2.55" fill="none" stroke="#d9693a" stroke-width="0.95"/>
<circle cx="388.85" cy="351.01" r="2.55" fill="none" stroke="#d9693a" stroke-width="0.95"/>
<circle cx="390.23" cy="349.68" r="2.55" fill="none" stroke="#d9693a" stroke-width="0.95"/>
<circle cx="391.62" cy="348.87" r="2.55" fill="none" stroke="#d9693a" stroke-width="0.95"/>
<circle cx="393" cy="350.43" r="2.55" fill="none" stroke="#d9693a" stroke-width="0.95"/>
<circle cx="394.38" cy="348.93" r="2.55" fill="none" stroke="#d9693a" stroke-width="0.95"/>
<circle cx="395.76" cy="348.77" r="2.55" fill="none" stroke="#d9693a" stroke-width="0.95"/>
<circle cx="397.14" cy="348.87" r="2.55" fill="none" stroke="#d9693a" stroke-width="0.95"/>
<circle cx="398.52" cy="350.68" r="2.55" fill="none" stroke="#d9693a" stroke-width="0.95"/>
<circle cx="399.9" cy="351.12" r="2.55" fill="none" stroke="#d9693a" stroke-width="0.95"/>
<circle cx="401.28" cy="351.11" r="2.55" fill="none" stroke="#d9693a" stroke-width="0.95"/>
<circle cx="402.66" cy="351.2" r="2.55" fill="none" stroke="#d9693a" stroke-width="0.95"/>
<circle cx="404.04" cy="351.17" r="2.55" fill="none" stroke="#d9693a" stroke-width="0.95"/>
<circle cx="405.42" cy="349.89" r="2.55" fill="none" stroke="#d9693a" stroke-width="0.95"/>
<circle cx="406.8" cy="364.2" r="2.55" fill="none" stroke="#d9693a" stroke-width="0.95"/>
<circle cx="408.18" cy="349.22" r="2.55" fill="none" stroke="#d9693a" stroke-width="0.95"/>
<circle cx="409.56" cy="350.33" r="2.55" fill="none" stroke="#d9693a" stroke-width="0.95"/>
<circle cx="410.94" cy="349.8" r="2.55" fill="none" stroke="#d9693a" stroke-width="0.95"/>
<circle cx="412.32" cy="349.35" r="2.55" fill="none" stroke="#d9693a" stroke-width="0.95"/>
<circle cx="413.7" cy="351.54" r="2.55" fill="none" stroke="#d9693a" stroke-width="0.95"/>
<circle cx="415.08" cy="349.78" r="2.55" fill="none" stroke="#d9693a" stroke-width="0.95"/>
<circle cx="416.46" cy="349.01" r="2.55" fill="none" stroke="#d9693a" stroke-width="0.95"/>
<circle cx="417.84" cy="349.4" r="2.55" fill="none" stroke="#d9693a" stroke-width="0.95"/>
<circle cx="419.22" cy="349.5" r="2.55" fill="none" stroke="#d9693a" stroke-width="0.95"/>
<circle cx="420.6" cy="350.34" r="2.55" fill="none" stroke="#d9693a" stroke-width="0.95"/>
<circle cx="421.98" cy="351.25" r="2.55" fill="none" stroke="#d9693a" stroke-width="0.95"/>
<circle cx="423.36" cy="349.38" r="2.55" fill="none" stroke="#d9693a" stroke-width="0.95"/>
<circle cx="424.74" cy="350.78" r="2.55" fill="none" stroke="#d9693a" stroke-width="0.95"/>
<circle cx="426.12" cy="349.35" r="2.55" fill="none" stroke="#d9693a" stroke-width="0.95"/>
<line x1="281.2" y1="349.39" x2="427.5" y2="349.39" stroke="#ff0000" stroke-opacity="0.6" stroke-width="1.3"/>
<g clip-path="url(#c6)">
<line x1="474.9" y1="340.21" x2="619.3" y2="340.21" stroke="#ff3a44" stroke-width="1.05" stroke-dasharray="3.2 2.7"/>
<line x1="474.9" y1="382.39" x2="619.3" y2="382.39" stroke="#ff3a44" stroke-width="1.05" stroke-dasharray="3.2 2.7"/>
<path d="M474.89 359.61 L476.28 362.62 L477.67 362.59 L479.05 359.74 L480.44 357.23 L481.83 363.8 L483.22 364.02 L484.61 363.89 L486 359.96 L487.39 360.47 L488.77 357.62 L490.16 356.85 L491.55 263.58 L492.94 361.25 L494.33 362.85 L495.72 361.82 L497.11 364 L498.49 364.61 L499.88 359.61 L501.27 361.29 L502.66 361.93 L504.05 359.81 L505.44 362.42 L506.83 360.13 L508.21 394.77 L509.6 363.58 L510.99 363.37 L512.38 363.15 L513.77 363.43 L515.16 361.62 L516.55 363.33 L517.93 362.49 L519.32 364 L520.71 359.93 L522.1 362.84 L523.49 362.29 L524.88 361.64 L526.27 359.96 L527.65 357.62 L529.04 359.89 L530.43 362.06 L531.82 361.91 L533.21 361.95 L534.6 364.59 L535.99 362.38 L537.37 355.3 L538.76 364.66 L540.15 360.51 L541.54 363.78 L542.93 362.21 L544.32 360.89 L545.71 369.23 L547.09 362.98 L548.48 361.98 L549.87 361.78 L551.26 360.59 L552.65 364.13 L554.04 355.69 L555.43 363.39 L556.81 362.71 L558.2 361.29 L559.59 366.91 L560.98 361.89 L562.37 361.32 L563.76 359.56 L565.15 362.23 L566.53 361.75 L567.92 362.06 L569.31 362.04 L570.7 361.52 L572.09 362.21 L573.48 361.98 L574.87 362.13 L576.25 345.24 L577.64 361.5 L579.03 360.99 L580.42 360.8 L581.81 362.76 L583.2 361.9 L584.59 360.8 L585.97 361.09 L587.36 363.11 L588.75 363.16 L590.14 360.33 L591.53 363.3 L592.92 362.82 L594.31 363.3 L595.69 361.58 L597.08 361.26 L598.47 351.04 L599.86 363.06 L601.25 361.45 L602.64 361.61 L604.03 363.1 L605.41 360.97 L606.8 360.73 L608.19 362.88 L609.58 360.77 L610.97 362.36 L612.36 362.11 L613.75 360.66 L615.13 361.12 L616.52 363.04 L617.91 360.33" fill="none" stroke="#66c840" stroke-width="1.1" stroke-linejoin="round"/>
</g>
<circle cx="474.89" cy="359.61" r="2.55" fill="none" stroke="#66c840" stroke-width="0.95"/>
<circle cx="476.28" cy="362.62" r="2.55" fill="none" stroke="#66c840" stroke-width="0.95"/>
<circle cx="477.67" cy="362.59" r="2.55" fill="none" stroke="#66c840" stroke-width="0.95"/>
<circle cx="479.05" cy="359.74" r="2.55" fill="none" stroke="#66c840" stroke-width="0.95"/>
<circle cx="480.44" cy="357.23" r="2.55" fill="none" stroke="#66c840" stroke-width="0.95"/>
<circle cx="481.83" cy="363.8" r="2.55" fill="none" stroke="#66c840" stroke-width="0.95"/>
<circle cx="483.22" cy="364.02" r="2.55" fill="none" stroke="#66c840" stroke-width="0.95"/>
<circle cx="484.61" cy="363.89" r="2.55" fill="none" stroke="#66c840" stroke-width="0.95"/>
<circle cx="486" cy="359.96" r="2.55" fill="none" stroke="#66c840" stroke-width="0.95"/>
<circle cx="487.39" cy="360.47" r="2.55" fill="none" stroke="#66c840" stroke-width="0.95"/>
<circle cx="488.77" cy="357.62" r="2.55" fill="none" stroke="#66c840" stroke-width="0.95"/>
<circle cx="490.16" cy="356.85" r="2.55" fill="none" stroke="#66c840" stroke-width="0.95"/>
<circle cx="491.55" cy="263.58" r="2.55" fill="none" stroke="#66c840" stroke-width="0.95"/>
<circle cx="492.94" cy="361.25" r="2.55" fill="none" stroke="#66c840" stroke-width="0.95"/>
<circle cx="494.33" cy="362.85" r="2.55" fill="none" stroke="#66c840" stroke-width="0.95"/>
<circle cx="495.72" cy="361.82" r="2.55" fill="none" stroke="#66c840" stroke-width="0.95"/>
<circle cx="497.11" cy="364" r="2.55" fill="none" stroke="#66c840" stroke-width="0.95"/>
<circle cx="498.49" cy="364.61" r="2.55" fill="none" stroke="#66c840" stroke-width="0.95"/>
<circle cx="499.88" cy="359.61" r="2.55" fill="none" stroke="#66c840" stroke-width="0.95"/>
<circle cx="501.27" cy="361.29" r="2.55" fill="none" stroke="#66c840" stroke-width="0.95"/>
<circle cx="502.66" cy="361.93" r="2.55" fill="none" stroke="#66c840" stroke-width="0.95"/>
<circle cx="504.05" cy="359.81" r="2.55" fill="none" stroke="#66c840" stroke-width="0.95"/>
<circle cx="505.44" cy="362.42" r="2.55" fill="none" stroke="#66c840" stroke-width="0.95"/>
<circle cx="506.83" cy="360.13" r="2.55" fill="none" stroke="#66c840" stroke-width="0.95"/>
<circle cx="508.21" cy="394.77" r="2.55" fill="none" stroke="#66c840" stroke-width="0.95"/>
<circle cx="509.6" cy="363.58" r="2.55" fill="none" stroke="#66c840" stroke-width="0.95"/>
<circle cx="510.99" cy="363.37" r="2.55" fill="none" stroke="#66c840" stroke-width="0.95"/>
<circle cx="512.38" cy="363.15" r="2.55" fill="none" stroke="#66c840" stroke-width="0.95"/>
<circle cx="513.77" cy="363.43" r="2.55" fill="none" stroke="#66c840" stroke-width="0.95"/>
<circle cx="515.16" cy="361.62" r="2.55" fill="none" stroke="#66c840" stroke-width="0.95"/>
<circle cx="516.55" cy="363.33" r="2.55" fill="none" stroke="#66c840" stroke-width="0.95"/>
<circle cx="517.93" cy="362.49" r="2.55" fill="none" stroke="#66c840" stroke-width="0.95"/>
<circle cx="519.32" cy="364" r="2.55" fill="none" stroke="#66c840" stroke-width="0.95"/>
<circle cx="520.71" cy="359.93" r="2.55" fill="none" stroke="#66c840" stroke-width="0.95"/>
<circle cx="522.1" cy="362.84" r="2.55" fill="none" stroke="#66c840" stroke-width="0.95"/>
<circle cx="523.49" cy="362.29" r="2.55" fill="none" stroke="#66c840" stroke-width="0.95"/>
<circle cx="524.88" cy="361.64" r="2.55" fill="none" stroke="#66c840" stroke-width="0.95"/>
<circle cx="526.27" cy="359.96" r="2.55" fill="none" stroke="#66c840" stroke-width="0.95"/>
<circle cx="527.65" cy="357.62" r="2.55" fill="none" stroke="#66c840" stroke-width="0.95"/>
<circle cx="529.04" cy="359.89" r="2.55" fill="none" stroke="#66c840" stroke-width="0.95"/>
<circle cx="530.43" cy="362.06" r="2.55" fill="none" stroke="#66c840" stroke-width="0.95"/>
<circle cx="531.82" cy="361.91" r="2.55" fill="none" stroke="#66c840" stroke-width="0.95"/>
<circle cx="533.21" cy="361.95" r="2.55" fill="none" stroke="#66c840" stroke-width="0.95"/>
<circle cx="534.6" cy="364.59" r="2.55" fill="none" stroke="#66c840" stroke-width="0.95"/>
<circle cx="535.99" cy="362.38" r="2.55" fill="none" stroke="#66c840" stroke-width="0.95"/>
<circle cx="537.37" cy="355.3" r="2.55" fill="none" stroke="#66c840" stroke-width="0.95"/>
<circle cx="538.76" cy="364.66" r="2.55" fill="none" stroke="#66c840" stroke-width="0.95"/>
<circle cx="540.15" cy="360.51" r="2.55" fill="none" stroke="#66c840" stroke-width="0.95"/>
<circle cx="541.54" cy="363.78" r="2.55" fill="none" stroke="#66c840" stroke-width="0.95"/>
<circle cx="542.93" cy="362.21" r="2.55" fill="none" stroke="#66c840" stroke-width="0.95"/>
<circle cx="544.32" cy="360.89" r="2.55" fill="none" stroke="#66c840" stroke-width="0.95"/>
<circle cx="545.71" cy="369.23" r="2.55" fill="none" stroke="#66c840" stroke-width="0.95"/>
<circle cx="547.09" cy="362.98" r="2.55" fill="none" stroke="#66c840" stroke-width="0.95"/>
<circle cx="548.48" cy="361.98" r="2.55" fill="none" stroke="#66c840" stroke-width="0.95"/>
<circle cx="549.87" cy="361.78" r="2.55" fill="none" stroke="#66c840" stroke-width="0.95"/>
<circle cx="551.26" cy="360.59" r="2.55" fill="none" stroke="#66c840" stroke-width="0.95"/>
<circle cx="552.65" cy="364.13" r="2.55" fill="none" stroke="#66c840" stroke-width="0.95"/>
<circle cx="554.04" cy="355.69" r="2.55" fill="none" stroke="#66c840" stroke-width="0.95"/>
<circle cx="555.43" cy="363.39" r="2.55" fill="none" stroke="#66c840" stroke-width="0.95"/>
<circle cx="556.81" cy="362.71" r="2.55" fill="none" stroke="#66c840" stroke-width="0.95"/>
<circle cx="558.2" cy="361.29" r="2.55" fill="none" stroke="#66c840" stroke-width="0.95"/>
<circle cx="559.59" cy="366.91" r="2.55" fill="none" stroke="#66c840" stroke-width="0.95"/>
<circle cx="560.98" cy="361.89" r="2.55" fill="none" stroke="#66c840" stroke-width="0.95"/>
<circle cx="562.37" cy="361.32" r="2.55" fill="none" stroke="#66c840" stroke-width="0.95"/>
<circle cx="563.76" cy="359.56" r="2.55" fill="none" stroke="#66c840" stroke-width="0.95"/>
<circle cx="565.15" cy="362.23" r="2.55" fill="none" stroke="#66c840" stroke-width="0.95"/>
<circle cx="566.53" cy="361.75" r="2.55" fill="none" stroke="#66c840" stroke-width="0.95"/>
<circle cx="567.92" cy="362.06" r="2.55" fill="none" stroke="#66c840" stroke-width="0.95"/>
<circle cx="569.31" cy="362.04" r="2.55" fill="none" stroke="#66c840" stroke-width="0.95"/>
<circle cx="570.7" cy="361.52" r="2.55" fill="none" stroke="#66c840" stroke-width="0.95"/>
<circle cx="572.09" cy="362.21" r="2.55" fill="none" stroke="#66c840" stroke-width="0.95"/>
<circle cx="573.48" cy="361.98" r="2.55" fill="none" stroke="#66c840" stroke-width="0.95"/>
<circle cx="574.87" cy="362.13" r="2.55" fill="none" stroke="#66c840" stroke-width="0.95"/>
<circle cx="576.25" cy="345.24" r="2.55" fill="none" stroke="#66c840" stroke-width="0.95"/>
<circle cx="577.64" cy="361.5" r="2.55" fill="none" stroke="#66c840" stroke-width="0.95"/>
<circle cx="579.03" cy="360.99" r="2.55" fill="none" stroke="#66c840" stroke-width="0.95"/>
<circle cx="580.42" cy="360.8" r="2.55" fill="none" stroke="#66c840" stroke-width="0.95"/>
<circle cx="581.81" cy="362.76" r="2.55" fill="none" stroke="#66c840" stroke-width="0.95"/>
<circle cx="583.2" cy="361.9" r="2.55" fill="none" stroke="#66c840" stroke-width="0.95"/>
<circle cx="584.59" cy="360.8" r="2.55" fill="none" stroke="#66c840" stroke-width="0.95"/>
<circle cx="585.97" cy="361.09" r="2.55" fill="none" stroke="#66c840" stroke-width="0.95"/>
<circle cx="587.36" cy="363.11" r="2.55" fill="none" stroke="#66c840" stroke-width="0.95"/>
<circle cx="588.75" cy="363.16" r="2.55" fill="none" stroke="#66c840" stroke-width="0.95"/>
<circle cx="590.14" cy="360.33" r="2.55" fill="none" stroke="#66c840" stroke-width="0.95"/>
<circle cx="591.53" cy="363.3" r="2.55" fill="none" stroke="#66c840" stroke-width="0.95"/>
<circle cx="592.92" cy="362.82" r="2.55" fill="none" stroke="#66c840" stroke-width="0.95"/>
<circle cx="594.31" cy="363.3" r="2.55" fill="none" stroke="#66c840" stroke-width="0.95"/>
<circle cx="595.69" cy="361.58" r="2.55" fill="none" stroke="#66c840" stroke-width="0.95"/>
<circle cx="597.08" cy="361.26" r="2.55" fill="none" stroke="#66c840" stroke-width="0.95"/>
<circle cx="598.47" cy="351.04" r="2.55" fill="none" stroke="#66c840" stroke-width="0.95"/>
<circle cx="599.86" cy="363.06" r="2.55" fill="none" stroke="#66c840" stroke-width="0.95"/>
<circle cx="601.25" cy="361.45" r="2.55" fill="none" stroke="#66c840" stroke-width="0.95"/>
<circle cx="602.64" cy="361.61" r="2.55" fill="none" stroke="#66c840" stroke-width="0.95"/>
<circle cx="604.03" cy="363.1" r="2.55" fill="none" stroke="#66c840" stroke-width="0.95"/>
<circle cx="605.41" cy="360.97" r="2.55" fill="none" stroke="#66c840" stroke-width="0.95"/>
<circle cx="606.8" cy="360.73" r="2.55" fill="none" stroke="#66c840" stroke-width="0.95"/>
<circle cx="608.19" cy="362.88" r="2.55" fill="none" stroke="#66c840" stroke-width="0.95"/>
<circle cx="609.58" cy="360.77" r="2.55" fill="none" stroke="#66c840" stroke-width="0.95"/>
<circle cx="610.97" cy="362.36" r="2.55" fill="none" stroke="#66c840" stroke-width="0.95"/>
<circle cx="612.36" cy="362.11" r="2.55" fill="none" stroke="#66c840" stroke-width="0.95"/>
<circle cx="613.75" cy="360.66" r="2.55" fill="none" stroke="#66c840" stroke-width="0.95"/>
<circle cx="615.13" cy="361.12" r="2.55" fill="none" stroke="#66c840" stroke-width="0.95"/>
<circle cx="616.52" cy="363.04" r="2.55" fill="none" stroke="#66c840" stroke-width="0.95"/>
<circle cx="617.91" cy="360.33" r="2.55" fill="none" stroke="#66c840" stroke-width="0.95"/>
<line x1="473.5" y1="361.68" x2="619.3" y2="361.68" stroke="#ff0000" stroke-opacity="0.6" stroke-width="1.3"/>
<path d="M89.6 33V187.4H200.2" fill="none" stroke="#9c9c9c" stroke-width="1"/>
<line x1="89.6" y1="187.4" x2="89.6" y2="185.9" stroke="#9c9c9c" stroke-width="0.8"/>
<text transform="translate(89.6 199) scale(1 1.15)" font-size="7.6" text-anchor="middle" fill="#383838">0</text>
<line x1="117.25" y1="187.4" x2="117.25" y2="185.9" stroke="#9c9c9c" stroke-width="0.8"/>
<text transform="translate(117.25 199) scale(1 1.15)" font-size="7.6" text-anchor="middle" fill="#383838">1</text>
<line x1="144.9" y1="187.4" x2="144.9" y2="185.9" stroke="#9c9c9c" stroke-width="0.8"/>
<text transform="translate(144.9 199) scale(1 1.15)" font-size="7.6" text-anchor="middle" fill="#383838">2</text>
<line x1="172.55" y1="187.4" x2="172.55" y2="185.9" stroke="#9c9c9c" stroke-width="0.8"/>
<text transform="translate(172.55 199) scale(1 1.15)" font-size="7.6" text-anchor="middle" fill="#383838">3</text>
<line x1="200.2" y1="187.4" x2="200.2" y2="185.9" stroke="#9c9c9c" stroke-width="0.8"/>
<text transform="translate(200.2 199) scale(1 1.15)" font-size="7.6" text-anchor="middle" fill="#383838">4</text>
<line x1="89.6" y1="187.4" x2="91.1" y2="187.4" stroke="#9c9c9c" stroke-width="0.8"/>
<text transform="translate(86.3 190.4) scale(1 1.15)" font-size="7.6" text-anchor="end" fill="#383838">0.2</text>
<line x1="89.6" y1="165.34" x2="91.1" y2="165.34" stroke="#9c9c9c" stroke-width="0.8"/>
<text transform="translate(86.3 168.34) scale(1 1.15)" font-size="7.6" text-anchor="end" fill="#383838">0.3</text>
<line x1="89.6" y1="143.29" x2="91.1" y2="143.29" stroke="#9c9c9c" stroke-width="0.8"/>
<text transform="translate(86.3 146.29) scale(1 1.15)" font-size="7.6" text-anchor="end" fill="#383838">0.4</text>
<line x1="89.6" y1="121.23" x2="91.1" y2="121.23" stroke="#9c9c9c" stroke-width="0.8"/>
<text transform="translate(86.3 124.23) scale(1 1.15)" font-size="7.6" text-anchor="end" fill="#383838">0.5</text>
<line x1="89.6" y1="99.17" x2="91.1" y2="99.17" stroke="#9c9c9c" stroke-width="0.8"/>
<text transform="translate(86.3 102.17) scale(1 1.15)" font-size="7.6" text-anchor="end" fill="#383838">0.6</text>
<line x1="89.6" y1="77.11" x2="91.1" y2="77.11" stroke="#9c9c9c" stroke-width="0.8"/>
<text transform="translate(86.3 80.11) scale(1 1.15)" font-size="7.6" text-anchor="end" fill="#383838">0.7</text>
<line x1="89.6" y1="55.06" x2="91.1" y2="55.06" stroke="#9c9c9c" stroke-width="0.8"/>
<text transform="translate(86.3 58.06) scale(1 1.15)" font-size="7.6" text-anchor="end" fill="#383838">0.8</text>
<line x1="89.6" y1="33" x2="91.1" y2="33" stroke="#9c9c9c" stroke-width="0.8"/>
<text transform="translate(86.3 36) scale(1 1.15)" font-size="7.6" text-anchor="end" fill="#383838">0.9</text>
<path d="M281.3 33V187.4H391.5" fill="none" stroke="#9c9c9c" stroke-width="1"/>
<line x1="281.3" y1="187.4" x2="281.3" y2="185.9" stroke="#9c9c9c" stroke-width="0.8"/>
<text transform="translate(281.3 199) scale(1 1.15)" font-size="7.6" text-anchor="middle" fill="#383838">0</text>
<line x1="308.85" y1="187.4" x2="308.85" y2="185.9" stroke="#9c9c9c" stroke-width="0.8"/>
<text transform="translate(308.85 199) scale(1 1.15)" font-size="7.6" text-anchor="middle" fill="#383838">1</text>
<line x1="336.4" y1="187.4" x2="336.4" y2="185.9" stroke="#9c9c9c" stroke-width="0.8"/>
<text transform="translate(336.4 199) scale(1 1.15)" font-size="7.6" text-anchor="middle" fill="#383838">2</text>
<line x1="363.95" y1="187.4" x2="363.95" y2="185.9" stroke="#9c9c9c" stroke-width="0.8"/>
<text transform="translate(363.95 199) scale(1 1.15)" font-size="7.6" text-anchor="middle" fill="#383838">3</text>
<line x1="391.5" y1="187.4" x2="391.5" y2="185.9" stroke="#9c9c9c" stroke-width="0.8"/>
<text transform="translate(391.5 199) scale(1 1.15)" font-size="7.6" text-anchor="middle" fill="#383838">4</text>
<line x1="281.3" y1="187.4" x2="282.8" y2="187.4" stroke="#9c9c9c" stroke-width="0.8"/>
<text transform="translate(278 190.4) scale(1 1.15)" font-size="7.6" text-anchor="end" fill="#383838">0.025</text>
<line x1="281.3" y1="168.1" x2="282.8" y2="168.1" stroke="#9c9c9c" stroke-width="0.8"/>
<text transform="translate(278 171.1) scale(1 1.15)" font-size="7.6" text-anchor="end" fill="#383838">0.03</text>
<line x1="281.3" y1="148.8" x2="282.8" y2="148.8" stroke="#9c9c9c" stroke-width="0.8"/>
<text transform="translate(278 151.8) scale(1 1.15)" font-size="7.6" text-anchor="end" fill="#383838">0.035</text>
<line x1="281.3" y1="129.5" x2="282.8" y2="129.5" stroke="#9c9c9c" stroke-width="0.8"/>
<text transform="translate(278 132.5) scale(1 1.15)" font-size="7.6" text-anchor="end" fill="#383838">0.04</text>
<line x1="281.3" y1="110.2" x2="282.8" y2="110.2" stroke="#9c9c9c" stroke-width="0.8"/>
<text transform="translate(278 113.2) scale(1 1.15)" font-size="7.6" text-anchor="end" fill="#383838">0.045</text>
<line x1="281.3" y1="90.9" x2="282.8" y2="90.9" stroke="#9c9c9c" stroke-width="0.8"/>
<text transform="translate(278 93.9) scale(1 1.15)" font-size="7.6" text-anchor="end" fill="#383838">0.05</text>
<line x1="281.3" y1="71.6" x2="282.8" y2="71.6" stroke="#9c9c9c" stroke-width="0.8"/>
<text transform="translate(278 74.6) scale(1 1.15)" font-size="7.6" text-anchor="end" fill="#383838">0.055</text>
<line x1="281.3" y1="52.3" x2="282.8" y2="52.3" stroke="#9c9c9c" stroke-width="0.8"/>
<text transform="translate(278 55.3) scale(1 1.15)" font-size="7.6" text-anchor="end" fill="#383838">0.06</text>
<line x1="281.3" y1="33" x2="282.8" y2="33" stroke="#9c9c9c" stroke-width="0.8"/>
<text transform="translate(278 36) scale(1 1.15)" font-size="7.6" text-anchor="end" fill="#383838">0.065</text>
<path d="M473.5 33V187.4H580.5" fill="none" stroke="#9c9c9c" stroke-width="1"/>
<line x1="473.5" y1="187.4" x2="473.5" y2="185.9" stroke="#9c9c9c" stroke-width="0.8"/>
<text transform="translate(473.5 199) scale(1 1.15)" font-size="7.6" text-anchor="middle" fill="#383838">0.2</text>
<line x1="509.17" y1="187.4" x2="509.17" y2="185.9" stroke="#9c9c9c" stroke-width="0.8"/>
<text transform="translate(509.17 199) scale(1 1.15)" font-size="7.6" text-anchor="middle" fill="#383838">0.4</text>
<line x1="544.83" y1="187.4" x2="544.83" y2="185.9" stroke="#9c9c9c" stroke-width="0.8"/>
<text transform="translate(544.83 199) scale(1 1.15)" font-size="7.6" text-anchor="middle" fill="#383838">0.6</text>
<line x1="580.5" y1="187.4" x2="580.5" y2="185.9" stroke="#9c9c9c" stroke-width="0.8"/>
<text transform="translate(580.5 199) scale(1 1.15)" font-size="7.6" text-anchor="middle" fill="#383838">0.8</text>
<line x1="473.5" y1="187.4" x2="475" y2="187.4" stroke="#9c9c9c" stroke-width="0.8"/>
<text transform="translate(470.2 190.4) scale(1 1.15)" font-size="7.6" text-anchor="end" fill="#383838">0.025</text>
<line x1="473.5" y1="168.1" x2="475" y2="168.1" stroke="#9c9c9c" stroke-width="0.8"/>
<text transform="translate(470.2 171.1) scale(1 1.15)" font-size="7.6" text-anchor="end" fill="#383838">0.03</text>
<line x1="473.5" y1="148.8" x2="475" y2="148.8" stroke="#9c9c9c" stroke-width="0.8"/>
<text transform="translate(470.2 151.8) scale(1 1.15)" font-size="7.6" text-anchor="end" fill="#383838">0.035</text>
<line x1="473.5" y1="129.5" x2="475" y2="129.5" stroke="#9c9c9c" stroke-width="0.8"/>
<text transform="translate(470.2 132.5) scale(1 1.15)" font-size="7.6" text-anchor="end" fill="#383838">0.04</text>
<line x1="473.5" y1="110.2" x2="475" y2="110.2" stroke="#9c9c9c" stroke-width="0.8"/>
<text transform="translate(470.2 113.2) scale(1 1.15)" font-size="7.6" text-anchor="end" fill="#383838">0.045</text>
<line x1="473.5" y1="90.9" x2="475" y2="90.9" stroke="#9c9c9c" stroke-width="0.8"/>
<text transform="translate(470.2 93.9) scale(1 1.15)" font-size="7.6" text-anchor="end" fill="#383838">0.05</text>
<line x1="473.5" y1="71.6" x2="475" y2="71.6" stroke="#9c9c9c" stroke-width="0.8"/>
<text transform="translate(470.2 74.6) scale(1 1.15)" font-size="7.6" text-anchor="end" fill="#383838">0.055</text>
<line x1="473.5" y1="52.3" x2="475" y2="52.3" stroke="#9c9c9c" stroke-width="0.8"/>
<text transform="translate(470.2 55.3) scale(1 1.15)" font-size="7.6" text-anchor="end" fill="#383838">0.06</text>
<line x1="473.5" y1="33" x2="475" y2="33" stroke="#9c9c9c" stroke-width="0.8"/>
<text transform="translate(470.2 36) scale(1 1.15)" font-size="7.6" text-anchor="end" fill="#383838">0.065</text>
<path d="M89.6 248.1V402.9H235.5V248.1Z" fill="none" stroke="#9c9c9c" stroke-width="1"/>
<line x1="89.6" y1="402.9" x2="89.6" y2="401.4" stroke="#9c9c9c" stroke-width="0.8"/>
<line x1="89.6" y1="248.1" x2="89.6" y2="249.6" stroke="#9c9c9c" stroke-width="0.8"/>
<text transform="translate(89.6 414.5) scale(1 1.15)" font-size="7.6" text-anchor="middle" fill="#383838">0</text>
<line x1="117.13" y1="402.9" x2="117.13" y2="401.4" stroke="#9c9c9c" stroke-width="0.8"/>
<line x1="117.13" y1="248.1" x2="117.13" y2="249.6" stroke="#9c9c9c" stroke-width="0.8"/>
<text transform="translate(117.13 414.5) scale(1 1.15)" font-size="7.6" text-anchor="middle" fill="#383838">20</text>
<line x1="144.66" y1="402.9" x2="144.66" y2="401.4" stroke="#9c9c9c" stroke-width="0.8"/>
<line x1="144.66" y1="248.1" x2="144.66" y2="249.6" stroke="#9c9c9c" stroke-width="0.8"/>
<text transform="translate(144.66 414.5) scale(1 1.15)" font-size="7.6" text-anchor="middle" fill="#383838">40</text>
<line x1="172.18" y1="402.9" x2="172.18" y2="401.4" stroke="#9c9c9c" stroke-width="0.8"/>
<line x1="172.18" y1="248.1" x2="172.18" y2="249.6" stroke="#9c9c9c" stroke-width="0.8"/>
<text transform="translate(172.18 414.5) scale(1 1.15)" font-size="7.6" text-anchor="middle" fill="#383838">60</text>
<line x1="199.71" y1="402.9" x2="199.71" y2="401.4" stroke="#9c9c9c" stroke-width="0.8"/>
<line x1="199.71" y1="248.1" x2="199.71" y2="249.6" stroke="#9c9c9c" stroke-width="0.8"/>
<text transform="translate(199.71 414.5) scale(1 1.15)" font-size="7.6" text-anchor="middle" fill="#383838">80</text>
<line x1="227.24" y1="402.9" x2="227.24" y2="401.4" stroke="#9c9c9c" stroke-width="0.8"/>
<line x1="227.24" y1="248.1" x2="227.24" y2="249.6" stroke="#9c9c9c" stroke-width="0.8"/>
<text transform="translate(227.24 414.5) scale(1 1.15)" font-size="7.6" text-anchor="middle" fill="#383838">100</text>
<line x1="89.6" y1="402.9" x2="91.1" y2="402.9" stroke="#9c9c9c" stroke-width="0.8"/>
<line x1="235.5" y1="402.9" x2="234" y2="402.9" stroke="#9c9c9c" stroke-width="0.8"/>
<text transform="translate(86.3 405.9) scale(1 1.15)" font-size="7.6" text-anchor="end" fill="#383838">-0.02</text>
<line x1="89.6" y1="383.55" x2="91.1" y2="383.55" stroke="#9c9c9c" stroke-width="0.8"/>
<line x1="235.5" y1="383.55" x2="234" y2="383.55" stroke="#9c9c9c" stroke-width="0.8"/>
<text transform="translate(86.3 386.55) scale(1 1.15)" font-size="7.6" text-anchor="end" fill="#383838">-0.01</text>
<line x1="89.6" y1="364.2" x2="91.1" y2="364.2" stroke="#9c9c9c" stroke-width="0.8"/>
<line x1="235.5" y1="364.2" x2="234" y2="364.2" stroke="#9c9c9c" stroke-width="0.8"/>
<text transform="translate(86.3 367.2) scale(1 1.15)" font-size="7.6" text-anchor="end" fill="#383838">0</text>
<line x1="89.6" y1="344.85" x2="91.1" y2="344.85" stroke="#9c9c9c" stroke-width="0.8"/>
<line x1="235.5" y1="344.85" x2="234" y2="344.85" stroke="#9c9c9c" stroke-width="0.8"/>
<text transform="translate(86.3 347.85) scale(1 1.15)" font-size="7.6" text-anchor="end" fill="#383838">0.01</text>
<line x1="89.6" y1="325.5" x2="91.1" y2="325.5" stroke="#9c9c9c" stroke-width="0.8"/>
<line x1="235.5" y1="325.5" x2="234" y2="325.5" stroke="#9c9c9c" stroke-width="0.8"/>
<text transform="translate(86.3 328.5) scale(1 1.15)" font-size="7.6" text-anchor="end" fill="#383838">0.02</text>
<line x1="89.6" y1="306.15" x2="91.1" y2="306.15" stroke="#9c9c9c" stroke-width="0.8"/>
<line x1="235.5" y1="306.15" x2="234" y2="306.15" stroke="#9c9c9c" stroke-width="0.8"/>
<text transform="translate(86.3 309.15) scale(1 1.15)" font-size="7.6" text-anchor="end" fill="#383838">0.03</text>
<line x1="89.6" y1="286.8" x2="91.1" y2="286.8" stroke="#9c9c9c" stroke-width="0.8"/>
<line x1="235.5" y1="286.8" x2="234" y2="286.8" stroke="#9c9c9c" stroke-width="0.8"/>
<text transform="translate(86.3 289.8) scale(1 1.15)" font-size="7.6" text-anchor="end" fill="#383838">0.04</text>
<line x1="89.6" y1="267.45" x2="91.1" y2="267.45" stroke="#9c9c9c" stroke-width="0.8"/>
<line x1="235.5" y1="267.45" x2="234" y2="267.45" stroke="#9c9c9c" stroke-width="0.8"/>
<text transform="translate(86.3 270.45) scale(1 1.15)" font-size="7.6" text-anchor="end" fill="#383838">0.05</text>
<line x1="89.6" y1="248.1" x2="91.1" y2="248.1" stroke="#9c9c9c" stroke-width="0.8"/>
<line x1="235.5" y1="248.1" x2="234" y2="248.1" stroke="#9c9c9c" stroke-width="0.8"/>
<text transform="translate(86.3 251.1) scale(1 1.15)" font-size="7.6" text-anchor="end" fill="#383838">0.06</text>
<path d="M281.2 248.1V402.9H427.5V248.1Z" fill="none" stroke="#9c9c9c" stroke-width="1"/>
<line x1="281.2" y1="402.9" x2="281.2" y2="401.4" stroke="#9c9c9c" stroke-width="0.8"/>
<line x1="281.2" y1="248.1" x2="281.2" y2="249.6" stroke="#9c9c9c" stroke-width="0.8"/>
<text transform="translate(281.2 414.5) scale(1 1.15)" font-size="7.6" text-anchor="middle" fill="#383838">0</text>
<line x1="308.8" y1="402.9" x2="308.8" y2="401.4" stroke="#9c9c9c" stroke-width="0.8"/>
<line x1="308.8" y1="248.1" x2="308.8" y2="249.6" stroke="#9c9c9c" stroke-width="0.8"/>
<text transform="translate(308.8 414.5) scale(1 1.15)" font-size="7.6" text-anchor="middle" fill="#383838">20</text>
<line x1="336.41" y1="402.9" x2="336.41" y2="401.4" stroke="#9c9c9c" stroke-width="0.8"/>
<line x1="336.41" y1="248.1" x2="336.41" y2="249.6" stroke="#9c9c9c" stroke-width="0.8"/>
<text transform="translate(336.41 414.5) scale(1 1.15)" font-size="7.6" text-anchor="middle" fill="#383838">40</text>
<line x1="364.01" y1="402.9" x2="364.01" y2="401.4" stroke="#9c9c9c" stroke-width="0.8"/>
<line x1="364.01" y1="248.1" x2="364.01" y2="249.6" stroke="#9c9c9c" stroke-width="0.8"/>
<text transform="translate(364.01 414.5) scale(1 1.15)" font-size="7.6" text-anchor="middle" fill="#383838">60</text>
<line x1="391.62" y1="402.9" x2="391.62" y2="401.4" stroke="#9c9c9c" stroke-width="0.8"/>
<line x1="391.62" y1="248.1" x2="391.62" y2="249.6" stroke="#9c9c9c" stroke-width="0.8"/>
<text transform="translate(391.62 414.5) scale(1 1.15)" font-size="7.6" text-anchor="middle" fill="#383838">80</text>
<line x1="419.22" y1="402.9" x2="419.22" y2="401.4" stroke="#9c9c9c" stroke-width="0.8"/>
<line x1="419.22" y1="248.1" x2="419.22" y2="249.6" stroke="#9c9c9c" stroke-width="0.8"/>
<text transform="translate(419.22 414.5) scale(1 1.15)" font-size="7.6" text-anchor="middle" fill="#383838">100</text>
<line x1="281.2" y1="402.9" x2="282.7" y2="402.9" stroke="#9c9c9c" stroke-width="0.8"/>
<line x1="427.5" y1="402.9" x2="426" y2="402.9" stroke="#9c9c9c" stroke-width="0.8"/>
<text transform="translate(277.9 405.9) scale(1 1.15)" font-size="7.6" text-anchor="end" fill="#383838">-1</text>
<line x1="281.2" y1="377.1" x2="282.7" y2="377.1" stroke="#9c9c9c" stroke-width="0.8"/>
<line x1="427.5" y1="377.1" x2="426" y2="377.1" stroke="#9c9c9c" stroke-width="0.8"/>
<text transform="translate(277.9 380.1) scale(1 1.15)" font-size="7.6" text-anchor="end" fill="#383838">-0.5</text>
<line x1="281.2" y1="351.3" x2="282.7" y2="351.3" stroke="#9c9c9c" stroke-width="0.8"/>
<line x1="427.5" y1="351.3" x2="426" y2="351.3" stroke="#9c9c9c" stroke-width="0.8"/>
<text transform="translate(277.9 354.3) scale(1 1.15)" font-size="7.6" text-anchor="end" fill="#383838">0</text>
<line x1="281.2" y1="325.5" x2="282.7" y2="325.5" stroke="#9c9c9c" stroke-width="0.8"/>
<line x1="427.5" y1="325.5" x2="426" y2="325.5" stroke="#9c9c9c" stroke-width="0.8"/>
<text transform="translate(277.9 328.5) scale(1 1.15)" font-size="7.6" text-anchor="end" fill="#383838">0.5</text>
<line x1="281.2" y1="299.7" x2="282.7" y2="299.7" stroke="#9c9c9c" stroke-width="0.8"/>
<line x1="427.5" y1="299.7" x2="426" y2="299.7" stroke="#9c9c9c" stroke-width="0.8"/>
<text transform="translate(277.9 302.7) scale(1 1.15)" font-size="7.6" text-anchor="end" fill="#383838">1</text>
<line x1="281.2" y1="273.9" x2="282.7" y2="273.9" stroke="#9c9c9c" stroke-width="0.8"/>
<line x1="427.5" y1="273.9" x2="426" y2="273.9" stroke="#9c9c9c" stroke-width="0.8"/>
<text transform="translate(277.9 276.9) scale(1 1.15)" font-size="7.6" text-anchor="end" fill="#383838">1.5</text>
<line x1="281.2" y1="248.1" x2="282.7" y2="248.1" stroke="#9c9c9c" stroke-width="0.8"/>
<line x1="427.5" y1="248.1" x2="426" y2="248.1" stroke="#9c9c9c" stroke-width="0.8"/>
<text transform="translate(277.9 251.1) scale(1 1.15)" font-size="7.6" text-anchor="end" fill="#383838">2</text>
<path d="M473.5 248.1V402.9H619.3V248.1Z" fill="none" stroke="#9c9c9c" stroke-width="1"/>
<line x1="473.5" y1="402.9" x2="473.5" y2="401.4" stroke="#9c9c9c" stroke-width="0.8"/>
<line x1="473.5" y1="248.1" x2="473.5" y2="249.6" stroke="#9c9c9c" stroke-width="0.8"/>
<text transform="translate(473.5 414.5) scale(1 1.15)" font-size="7.6" text-anchor="middle" fill="#383838">0</text>
<line x1="501.27" y1="402.9" x2="501.27" y2="401.4" stroke="#9c9c9c" stroke-width="0.8"/>
<line x1="501.27" y1="248.1" x2="501.27" y2="249.6" stroke="#9c9c9c" stroke-width="0.8"/>
<text transform="translate(501.27 414.5) scale(1 1.15)" font-size="7.6" text-anchor="middle" fill="#383838">20</text>
<line x1="529.04" y1="402.9" x2="529.04" y2="401.4" stroke="#9c9c9c" stroke-width="0.8"/>
<line x1="529.04" y1="248.1" x2="529.04" y2="249.6" stroke="#9c9c9c" stroke-width="0.8"/>
<text transform="translate(529.04 414.5) scale(1 1.15)" font-size="7.6" text-anchor="middle" fill="#383838">40</text>
<line x1="556.81" y1="402.9" x2="556.81" y2="401.4" stroke="#9c9c9c" stroke-width="0.8"/>
<line x1="556.81" y1="248.1" x2="556.81" y2="249.6" stroke="#9c9c9c" stroke-width="0.8"/>
<text transform="translate(556.81 414.5) scale(1 1.15)" font-size="7.6" text-anchor="middle" fill="#383838">60</text>
<line x1="584.59" y1="402.9" x2="584.59" y2="401.4" stroke="#9c9c9c" stroke-width="0.8"/>
<line x1="584.59" y1="248.1" x2="584.59" y2="249.6" stroke="#9c9c9c" stroke-width="0.8"/>
<text transform="translate(584.59 414.5) scale(1 1.15)" font-size="7.6" text-anchor="middle" fill="#383838">80</text>
<line x1="612.36" y1="402.9" x2="612.36" y2="401.4" stroke="#9c9c9c" stroke-width="0.8"/>
<line x1="612.36" y1="248.1" x2="612.36" y2="249.6" stroke="#9c9c9c" stroke-width="0.8"/>
<text transform="translate(612.36 414.5) scale(1 1.15)" font-size="7.6" text-anchor="middle" fill="#383838">100</text>
<line x1="473.5" y1="402.9" x2="475" y2="402.9" stroke="#9c9c9c" stroke-width="0.8"/>
<line x1="619.3" y1="402.9" x2="617.8" y2="402.9" stroke="#9c9c9c" stroke-width="0.8"/>
<text transform="translate(470.2 405.9) scale(1 1.15)" font-size="7.6" text-anchor="end" fill="#383838">-1</text>
<line x1="473.5" y1="383.55" x2="475" y2="383.55" stroke="#9c9c9c" stroke-width="0.8"/>
<line x1="619.3" y1="383.55" x2="617.8" y2="383.55" stroke="#9c9c9c" stroke-width="0.8"/>
<text transform="translate(470.2 386.55) scale(1 1.15)" font-size="7.6" text-anchor="end" fill="#383838">-0.5</text>
<line x1="473.5" y1="364.2" x2="475" y2="364.2" stroke="#9c9c9c" stroke-width="0.8"/>
<line x1="619.3" y1="364.2" x2="617.8" y2="364.2" stroke="#9c9c9c" stroke-width="0.8"/>
<text transform="translate(470.2 367.2) scale(1 1.15)" font-size="7.6" text-anchor="end" fill="#383838">0</text>
<line x1="473.5" y1="344.85" x2="475" y2="344.85" stroke="#9c9c9c" stroke-width="0.8"/>
<line x1="619.3" y1="344.85" x2="617.8" y2="344.85" stroke="#9c9c9c" stroke-width="0.8"/>
<text transform="translate(470.2 347.85) scale(1 1.15)" font-size="7.6" text-anchor="end" fill="#383838">0.5</text>
<line x1="473.5" y1="325.5" x2="475" y2="325.5" stroke="#9c9c9c" stroke-width="0.8"/>
<line x1="619.3" y1="325.5" x2="617.8" y2="325.5" stroke="#9c9c9c" stroke-width="0.8"/>
<text transform="translate(470.2 328.5) scale(1 1.15)" font-size="7.6" text-anchor="end" fill="#383838">1</text>
<line x1="473.5" y1="306.15" x2="475" y2="306.15" stroke="#9c9c9c" stroke-width="0.8"/>
<line x1="619.3" y1="306.15" x2="617.8" y2="306.15" stroke="#9c9c9c" stroke-width="0.8"/>
<text transform="translate(470.2 309.15) scale(1 1.15)" font-size="7.6" text-anchor="end" fill="#383838">1.5</text>
<line x1="473.5" y1="286.8" x2="475" y2="286.8" stroke="#9c9c9c" stroke-width="0.8"/>
<line x1="619.3" y1="286.8" x2="617.8" y2="286.8" stroke="#9c9c9c" stroke-width="0.8"/>
<text transform="translate(470.2 289.8) scale(1 1.15)" font-size="7.6" text-anchor="end" fill="#383838">2</text>
<line x1="473.5" y1="267.45" x2="475" y2="267.45" stroke="#9c9c9c" stroke-width="0.8"/>
<line x1="619.3" y1="267.45" x2="617.8" y2="267.45" stroke="#9c9c9c" stroke-width="0.8"/>
<text transform="translate(470.2 270.45) scale(1 1.15)" font-size="7.6" text-anchor="end" fill="#383838">2.5</text>
<line x1="473.5" y1="248.1" x2="475" y2="248.1" stroke="#9c9c9c" stroke-width="0.8"/>
<line x1="619.3" y1="248.1" x2="617.8" y2="248.1" stroke="#9c9c9c" stroke-width="0.8"/>
<text transform="translate(470.2 251.1) scale(1 1.15)" font-size="7.6" text-anchor="end" fill="#383838">3</text>
<text transform="translate(144.9 30) scale(1 1.08)" font-size="8.4" text-anchor="middle" fill="#303030">Cost vs Satisfaction (Color = Risk)</text>
<text transform="translate(336.4 30) scale(1 1.08)" font-size="8.4" text-anchor="middle" fill="#303030">Cost vs Risk (Color = Satisfaction)</text>
<text transform="translate(527 30) scale(1 1.08)" font-size="8.4" text-anchor="middle" fill="#303030">Satisfaction vs Risk (Color = Cost)</text>
<text transform="translate(162.55 245.1) scale(1 1.08)" font-size="8.4" text-anchor="middle" fill="#303030">Cost-Satisfaction MRS Change</text>
<text transform="translate(354.35 245.1) scale(1 1.08)" font-size="8.4" text-anchor="middle" fill="#303030">Cost-Risk MRS Change</text>
<text transform="translate(546.4 245.1) scale(1 1.08)" font-size="8.4" text-anchor="middle" fill="#303030">Satisfaction-Risk MRS Change</text>
<text transform="translate(144.9 210) scale(1 1.08)" font-size="8.3" text-anchor="middle" fill="#383838">Total cost</text>
<text transform="translate(336.4 210) scale(1 1.08)" font-size="8.3" text-anchor="middle" fill="#383838">Total cost</text>
<text transform="translate(527 210) scale(1 1.08)" font-size="8.3" text-anchor="middle" fill="#383838">Satisfaction</text>
<text transform="translate(162.55 426.1) scale(1 1.08)" font-size="8.3" text-anchor="middle" fill="#383838">Adjacent solution number</text>
<text transform="translate(354.35 426.1) scale(1 1.08)" font-size="8.3" text-anchor="middle" fill="#383838">Adjacent solution number</text>
<text transform="translate(546.4 426.1) scale(1 1.08)" font-size="8.3" text-anchor="middle" fill="#383838">Adjacent solution number</text>
<text transform="translate(72.3 110.2) rotate(-90) scale(1 1.05)" font-size="8.3" text-anchor="middle" fill="#383838">Satisfaction</text>
<text transform="translate(254.9 110.2) rotate(-90) scale(1 1.05)" font-size="8.3" text-anchor="middle" fill="#383838">Transportation risk</text>
<text transform="translate(447.2 110.2) rotate(-90) scale(1 1.05)" font-size="8.3" text-anchor="middle" fill="#383838">Transportation risk</text>
<g transform="translate(64.9 325.5) rotate(-90)"><text transform="translate(-47.93 0) scale(1 1.05)" font-size="8.3" fill="#383838">MRS(Cost</text><path d="M-6.75 -2.6H-2.85" stroke="#383838" stroke-width="0.85" fill="none"/><path d="M-0.65 -2.6L-3.25 -4.05L-3.25 -1.15Z" fill="#383838"/><text transform="translate(2.26 0) scale(1 1.05)" font-size="8.3" fill="#383838">Satisfaction)</text></g>
<g transform="translate(260.9 325.5) rotate(-90)"><text transform="translate(-34.54 0) scale(1 1.05)" font-size="8.3" fill="#383838">MRS(Cost</text><path d="M6.64 -2.6H10.54" stroke="#383838" stroke-width="0.85" fill="none"/><path d="M12.74 -2.6L10.14 -4.05L10.14 -1.15Z" fill="#383838"/><text transform="translate(15.64 0) scale(1 1.05)" font-size="8.3" fill="#383838">Risk)</text></g>
<g transform="translate(453.4 325.5) rotate(-90)"><text transform="translate(-47.46 0) scale(1 1.05)" font-size="8.3" fill="#383838">MRS(Satisfaction</text><path d="M19.56 -2.6H23.46" stroke="#383838" stroke-width="0.85" fill="none"/><path d="M25.66 -2.6L23.06 -4.05L23.06 -1.15Z" fill="#383838"/><text transform="translate(28.56 0) scale(1 1.05)" font-size="8.3" fill="#383838">Risk)</text></g>
<g transform="translate(183.6 211.6) scale(1 1.15)"><text x="0" y="0" font-size="7.6" fill="#707070">×</text><text x="5.32" y="0" font-size="7.6" fill="#383838">10</text><text x="13.83" y="-3.8" font-size="5.93" fill="#383838">4</text></g>
<g transform="translate(375.3 211.6) scale(1 1.15)"><text x="0" y="0" font-size="7.6" fill="#707070">×</text><text x="5.32" y="0" font-size="7.6" fill="#383838">10</text><text x="13.83" y="-3.8" font-size="5.93" fill="#383838">4</text></g>
<g transform="translate(282.2 246.4) scale(1 1.15)"><text x="0" y="0" font-size="7.6" fill="#707070">×</text><text x="5.32" y="0" font-size="7.6" fill="#383838">10</text><text x="13.83" y="-3.8" font-size="5.93" fill="#383838">-3</text></g>
<g transform="translate(603.6 29.2) scale(1 1.15)"><text x="0" y="0" font-size="6.85" fill="#707070">×</text><text x="4.79" y="0" font-size="6.85" fill="#383838">10</text><text x="12.47" y="-3.42" font-size="5.34" fill="#383838">4</text></g>
<rect x="208.5" y="33" width="10.7" height="154.4" fill="url(#g1)" stroke="#6a6a6a" stroke-width="0.6"/>
<line x1="219.2" y1="171.42" x2="217.7" y2="171.42" stroke="#333" stroke-width="0.8"/>
<text transform="translate(222.2 174.77) scale(1 1.15)" font-size="6.85" text-anchor="start" fill="#383838">0.03</text>
<line x1="219.2" y1="148.71" x2="217.7" y2="148.71" stroke="#333" stroke-width="0.8"/>
<text transform="translate(222.2 152.06) scale(1 1.15)" font-size="6.85" text-anchor="start" fill="#383838">0.035</text>
<line x1="219.2" y1="126" x2="217.7" y2="126" stroke="#333" stroke-width="0.8"/>
<text transform="translate(222.2 129.35) scale(1 1.15)" font-size="6.85" text-anchor="start" fill="#383838">0.04</text>
<line x1="219.2" y1="103.3" x2="217.7" y2="103.3" stroke="#333" stroke-width="0.8"/>
<text transform="translate(222.2 106.65) scale(1 1.15)" font-size="6.85" text-anchor="start" fill="#383838">0.045</text>
<line x1="219.2" y1="80.59" x2="217.7" y2="80.59" stroke="#333" stroke-width="0.8"/>
<text transform="translate(222.2 83.94) scale(1 1.15)" font-size="6.85" text-anchor="start" fill="#383838">0.05</text>
<line x1="219.2" y1="57.89" x2="217.7" y2="57.89" stroke="#333" stroke-width="0.8"/>
<text transform="translate(222.2 61.24) scale(1 1.15)" font-size="6.85" text-anchor="start" fill="#383838">0.055</text>
<line x1="219.2" y1="35.18" x2="217.7" y2="35.18" stroke="#333" stroke-width="0.8"/>
<text transform="translate(222.2 38.53) scale(1 1.15)" font-size="6.85" text-anchor="start" fill="#383838">0.06</text>
<rect x="400.2" y="33" width="10.8" height="154.4" fill="url(#g2)" stroke="#6a6a6a" stroke-width="0.6"/>
<line x1="411" y1="175.59" x2="409.5" y2="175.59" stroke="#333" stroke-width="0.8"/>
<text transform="translate(414 178.94) scale(1 1.15)" font-size="6.85" text-anchor="start" fill="#383838">0.3</text>
<line x1="411" y1="147.27" x2="409.5" y2="147.27" stroke="#333" stroke-width="0.8"/>
<text transform="translate(414 150.62) scale(1 1.15)" font-size="6.85" text-anchor="start" fill="#383838">0.4</text>
<line x1="411" y1="118.95" x2="409.5" y2="118.95" stroke="#333" stroke-width="0.8"/>
<text transform="translate(414 122.3) scale(1 1.15)" font-size="6.85" text-anchor="start" fill="#383838">0.5</text>
<line x1="411" y1="90.63" x2="409.5" y2="90.63" stroke="#333" stroke-width="0.8"/>
<text transform="translate(414 93.98) scale(1 1.15)" font-size="6.85" text-anchor="start" fill="#383838">0.6</text>
<line x1="411" y1="62.31" x2="409.5" y2="62.31" stroke="#333" stroke-width="0.8"/>
<text transform="translate(414 65.66) scale(1 1.15)" font-size="6.85" text-anchor="start" fill="#383838">0.7</text>
<line x1="411" y1="33.99" x2="409.5" y2="33.99" stroke="#333" stroke-width="0.8"/>
<text transform="translate(414 37.34) scale(1 1.15)" font-size="6.85" text-anchor="start" fill="#383838">0.8</text>
<rect x="592.2" y="33" width="10.6" height="154.4" fill="url(#g3)" stroke="#6a6a6a" stroke-width="0.6"/>
<line x1="602.8" y1="166.29" x2="601.3" y2="166.29" stroke="#333" stroke-width="0.8"/>
<text transform="translate(605.8 169.64) scale(1 1.15)" font-size="6.85" text-anchor="start" fill="#383838">1</text>
<line x1="602.8" y1="144.08" x2="601.3" y2="144.08" stroke="#333" stroke-width="0.8"/>
<text transform="translate(605.8 147.43) scale(1 1.15)" font-size="6.85" text-anchor="start" fill="#383838">1.5</text>
<line x1="602.8" y1="121.86" x2="601.3" y2="121.86" stroke="#333" stroke-width="0.8"/>
<text transform="translate(605.8 125.21) scale(1 1.15)" font-size="6.85" text-anchor="start" fill="#383838">2</text>
<line x1="602.8" y1="99.65" x2="601.3" y2="99.65" stroke="#333" stroke-width="0.8"/>
<text transform="translate(605.8 103) scale(1 1.15)" font-size="6.85" text-anchor="start" fill="#383838">2.5</text>
<line x1="602.8" y1="77.43" x2="601.3" y2="77.43" stroke="#333" stroke-width="0.8"/>
<text transform="translate(605.8 80.78) scale(1 1.15)" font-size="6.85" text-anchor="start" fill="#383838">3</text>
<line x1="602.8" y1="55.22" x2="601.3" y2="55.22" stroke="#333" stroke-width="0.8"/>
<text transform="translate(605.8 58.57) scale(1 1.15)" font-size="6.85" text-anchor="start" fill="#383838">3.5</text>
<line x1="602.8" y1="33" x2="601.3" y2="33" stroke="#333" stroke-width="0.8"/>
<text transform="translate(605.8 36.35) scale(1 1.15)" font-size="6.85" text-anchor="start" fill="#383838">4</text>
<rect x="4.9" y="203.2" width="114.6" height="29.2" fill="#fff" stroke="#8c8c8c" stroke-width="0.8"/>
<circle cx="18.6" cy="208.7" r="2.4" fill="#3e2a9e" stroke="#333" stroke-width="0.3"/>
<text transform="translate(31.7 211.5) scale(1 1.15)" font-size="6.85" text-anchor="start" fill="#383838">Pareto solution</text>
<circle cx="18.6" cy="218.2" r="2.4" fill="#ee1111" stroke="#333" stroke-width="0.3"/>
<text transform="translate(31.7 221) scale(1 1.15)" font-size="6.85" text-anchor="start" fill="#383838">Minimum cost solution</text>
<circle cx="18.6" cy="227.3" r="2.4" fill="#22dd22" stroke="#333" stroke-width="0.3"/>
<text transform="translate(31.7 230.1) scale(1 1.15)" font-size="6.85" text-anchor="start" fill="#383838">Highest satisfaction solution</text>
<rect x="209.5" y="202.3" width="96" height="28.8" fill="#fff" stroke="#8c8c8c" stroke-width="0.8"/>
<circle cx="222.8" cy="207.8" r="2.4" fill="#3dbf9a" stroke="#333" stroke-width="0.3"/>
<text transform="translate(235.8 210.6) scale(1 1.15)" font-size="6.85" text-anchor="start" fill="#383838">Pareto solution</text>
<circle cx="222.8" cy="216.9" r="2.4" fill="#ee1111" stroke="#333" stroke-width="0.3"/>
<text transform="translate(235.8 219.7) scale(1 1.15)" font-size="6.85" text-anchor="start" fill="#383838">Minimum cost solution</text>
<circle cx="222.8" cy="225.5" r="2.4" fill="#7a0a7a" stroke="#333" stroke-width="0.3"/>
<text transform="translate(235.8 228.3) scale(1 1.15)" font-size="6.85" text-anchor="start" fill="#383838">Minimal risk solution</text>
<rect x="554.8" y="200.3" width="113.7" height="29.1" fill="#fff" stroke="#8c8c8c" stroke-width="0.8"/>
<circle cx="568.2" cy="205.5" r="2.4" fill="#3e2a9e" stroke="#333" stroke-width="0.3"/>
<text transform="translate(581.5 208.3) scale(1 1.15)" font-size="6.85" text-anchor="start" fill="#383838">Pareto solution</text>
<circle cx="568.2" cy="214.8" r="2.4" fill="#22dd22" stroke="#333" stroke-width="0.3"/>
<text transform="translate(581.5 217.6) scale(1 1.15)" font-size="6.85" text-anchor="start" fill="#383838">Highest satisfaction solution</text>
<circle cx="568.2" cy="223.4" r="2.4" fill="#7a0a7a" stroke="#333" stroke-width="0.3"/>
<text transform="translate(581.5 226.2) scale(1 1.15)" font-size="6.85" text-anchor="start" fill="#383838">Minimal risk solution</text>
<rect x="167.5" y="254.4" width="61.8" height="37.3" fill="#fff" stroke="#8c8c8c" stroke-width="0.8"/>
<line x1="169.2" y1="259.6" x2="192" y2="259.6" stroke="#55a5da" stroke-width="1.1"/>
<circle cx="180.6" cy="259.6" r="2.55" fill="none" stroke="#55a5da" stroke-width="0.95"/>
<line x1="169.2" y1="268.9" x2="192" y2="268.9" stroke="#ff0000" stroke-opacity="0.55" stroke-width="1.3"/>
<line x1="169.4" y1="277.4" x2="192" y2="277.4" stroke="#ff3a44" stroke-width="1.05" stroke-dasharray="3.2 2.7"/>
<line x1="169.4" y1="286.5" x2="192" y2="286.5" stroke="#ff3a44" stroke-width="1.05" stroke-dasharray="3.2 2.7"/>
<text transform="translate(193.9 262.5) scale(1 1.15)" font-size="6.85" text-anchor="start" fill="#383838">data1</text>
<text transform="translate(193.9 271.8) scale(1 1.15)" font-size="6.85" text-anchor="start" fill="#383838">Mean</text>
<text transform="translate(193.9 280.3) scale(1 1.15)" font-size="6.85" text-anchor="start" fill="#383838">Mean ± 2σ</text>
<text transform="translate(193.9 289.4) scale(1 1.15)" font-size="6.85" text-anchor="start" fill="#383838">data2</text>
</svg>
</body></html>
